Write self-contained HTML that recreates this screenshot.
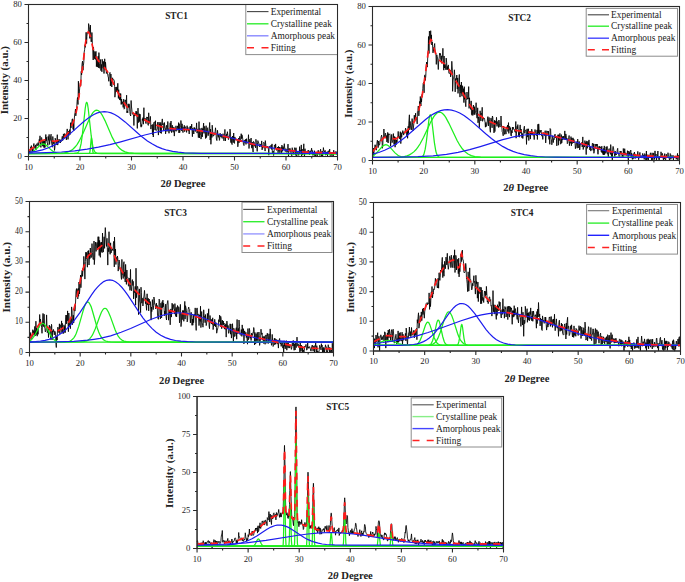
<!DOCTYPE html>
<html><head><meta charset="utf-8"><style>
html,body{margin:0;padding:0;background:#fff;}
svg{display:block;}
text{font-family:"Liberation Serif", serif;fill:#222;}
.tl{font-size:8.7px;fill:#262626;}
.tt{font-size:9.3px;font-weight:bold;}
.lg{font-size:9.4px;}
.al{font-size:10.6px;font-weight:bold;}
</style></head><body>
<svg width="685" height="582" viewBox="0 0 685 582">
<rect width="685" height="582" fill="#fff"/>
<path d="M28.5 155.4L29 151L29.3 152.1L29.8 151.5L30.1 152.8L30.5 146.9L31 147.6L31.4 145.6L31.8 148.3L32.1 152.2L32.7 149.2L33 151.3L33.4 146.2L33.9 143.5L34.2 145.9L34.7 148.3L35 147.3L35.5 145.1L35.9 149.9L36.3 144.4L36.8 143.7L37.1 145.9L37.6 145L38.1 142.6L38.5 145.5L38.8 145.3L39.2 139.5L39.6 141.1L40 135.8L40.5 144.8L40.9 147.4L41.2 137.8L41.7 137.5L42.2 143.3L42.5 145.7L43 140.5L43.2 146.5L43.7 141.4L44.1 147.8L44.5 140.8L45 147.5L45.8 134.5L46.2 140.9L46.7 137.2L47 142.3L47.5 143.2L47.9 145.4L48.2 136.4L48.8 140.4L49.1 134.4L49.6 144.5L49.9 141.1L50.4 140.1L50.7 135.5L51.1 134.2L51.6 143.1L52.5 147.2L52.8 136.5L53.2 141.6L53.5 143.7L54.1 141.6L54.5 150.4L54.9 147.5L55.2 138.2L55.6 140L56.1 140.7L56.6 144.7L57 139L57.3 134.7L57.7 145.1L58.2 140.6L58.6 142.1L59 139.1L59.3 140.2L59.8 140.5L60.3 143L60.7 139.7L61.1 141.7L61.5 139.8L61.8 139.3L62.3 136.3L62.6 140.7L63.2 139.3L63.4 133.9L64 138.3L64.3 138.2L64.7 133.5L65.1 135.3L65.6 135.5L65.9 134.7L66.4 139.9L66.7 132.9L67.2 128.9L67.6 131.3L68 139.4L68.5 131.2L68.9 135.5L69.3 131.8L69.7 129.6L70.1 134.5L70.6 122.7L71 127.9L71.4 123.2L71.7 123.2L72.2 119L72.5 118.8L73.1 129.4L73.4 121.9L73.8 130.8L74.1 121.9L74.6 115.1L75.1 112.3L75.5 109L75.8 115.9L76.3 110.4L76.7 109.4L77.1 101.2L77.5 97.5L78 104.5L78.4 81.2L78.8 97.4L79.1 96.8L79.6 88.9L80 85L80.3 83.2L80.8 85.5L81.2 71.4L81.6 74.9L82 64.2L82.5 61.1L83 70.3L83.4 65.6L83.8 61.9L84.2 52.1L84.6 49.7L85 44.7L85.4 47.3L86.1 32.3L86.6 43.5L86.9 36.4L87.3 32.6L87.8 33.2L88.3 33.1L88.6 23.6L89.1 26.7L89.5 29.6L89.8 38.4L90.4 25.1L90.7 35.4L91.1 41.7L91.4 40.5L91.6 41.5L91.9 32.5L92.4 44.9L92.7 47.1L93.2 60L93.5 47L94.1 57.5L94.4 58.7L94.9 51.4L95.3 59.5L95.7 52.1L96.1 51.5L96.4 66.6L96.9 59.2L97.4 67.1L97.7 60.1L98.2 56.1L98.6 67.8L98.9 52.6L99.4 63.6L99.8 68.3L100.6 59.5L100.9 70.6L101.4 64.4L101.9 71.8L102.2 59.3L103.1 68.3L103.4 61.4L104 73.5L104.7 58.8L105.2 69.2L105.5 62.2L106.4 73.5L107.2 70.9L107.6 73.9L108.1 76.7L108.3 76.9L108.8 81.3L109.2 74.1L109.7 73.5L110 72.4L110.4 85.9L110.9 74L111.8 87L112.2 80.3L112.6 77.8L113 80.1L113.4 79.9L113.7 79.6L114.3 81L114.6 86.3L114.9 97.2L115.5 91.9L115.9 87L116.3 92L116.7 87L117.1 87.2L117.4 91.5L117.8 83.3L118.4 98.4L118.7 89.7L119.1 97.2L119.6 99.8L119.9 93.5L120.4 100.3L120.7 93.6L121.2 104.5L121.6 99.1L121.9 104L122.3 101.7L122.8 103L123.2 107.4L123.7 99.2L124.1 109.2L124.6 108.6L125 99.9L125.4 100L126.2 104.3L126.6 95.2L126.9 112.8L127.3 111L127.8 112.8L128.1 103.9L128.6 107.5L129 103.8L129.4 104.9L129.8 111.3L130.2 114.6L130.7 116L131.1 100.5L131.5 107L131.8 109.1L132.3 114.1L132.8 113.8L133.1 114.7L133.5 115L133.9 125.5L134.3 114.2L134.7 116.1L135.2 113.1L135.6 113.8L136.1 111L136.4 115.4L136.8 111.7L137.3 128.4L138 108.1L138.6 122.6L139.3 113.8L139.7 121.6L140.1 114.2L140.5 124.7L141.1 127.2L141.4 124.6L141.7 126.3L142.3 118.9L142.6 120.5L143 117.6L143.4 124.2L143.9 107.7L144.2 120.2L144.7 120.3L145.1 118.1L145.4 121.5L146 123.6L146.8 116.9L147.2 118.2L147.6 117.1L147.9 124.2L148.3 125.4L148.7 112.8L149.3 123.4L149.7 120.3L150.1 119.3L150.4 116.4L150.9 129.1L151.2 125.3L151.6 125.3L152.1 124.9L152.5 134.6L152.9 124.3L153.3 137L153.7 122.9L154.2 122L154.7 121.9L155 130.1L155.5 120.7L155.7 128.8L156.2 130.6L156.6 129.7L157.1 129.2L157.4 124.9L157.8 122.1L158.4 135.1L159.1 122.2L159.4 125.4L159.8 124.2L160.3 133L160.7 122.4L161.3 133.5L161.5 126L162 121L162.3 118.9L162.8 125L163.1 123.4L163.5 130L164 129.5L164.4 122.5L164.9 127.7L165.3 128.3L165.6 133.9L166.1 127.3L166.6 125.3L167 131.5L167.3 130.3L167.8 121.5L168.2 127.6L169 133.3L169.3 131.1L169.8 129.6L170.2 122.8L170.6 131.2L171 121L171.5 132.6L171.8 130.2L172.3 125.2L172.7 129.8L173.2 132.3L173.5 129.4L173.9 126.9L174.3 136.1L174.8 129.9L175.1 129.4L175.6 130.6L176 125.8L176.3 131.3L176.9 130.5L177.1 128.8L177.7 125.9L178.1 130L178.6 122.6L178.9 132.9L179.2 123.7L179.7 132.7L180.1 129.8L180.6 127.6L180.9 120.5L181.4 125.4L181.7 130.9L182.1 123.8L182.6 130.2L183 132.6L183.3 127.4L183.9 128.9L184.3 125.3L184.7 131.7L185 127.8L185.6 126.7L185.9 128.3L186.4 129.6L186.6 132.4L187.1 125.7L187.5 128.9L188 127.5L188.3 131L188.7 129.5L189.2 134L189.6 129.3L190 126.5L190.5 129.3L190.8 126.1L191.2 128.4L191.7 124.1L192.4 136.7L192.8 128.1L193.4 130.6L193.8 134L194.2 127.3L194.5 128.9L195 128.2L195.3 131.5L195.7 129.3L196.2 129.1L196.6 122.9L197 133.1L197.8 128.9L198.3 137.6L198.6 137.2L199 121.6L199.4 138L200 128.4L200.4 134.3L200.8 134L201 139.1L201.6 134.7L201.9 127.9L202.3 136.9L202.8 128.8L203.1 130L203.6 123.1L204 133.4L204.4 126.4L204.8 128L205.6 138.5L206.1 125.7L206.5 137.5L207 133.9L207.3 128.5L207.7 127.7L208.2 135.7L208.5 132.4L208.9 133.4L209.7 122.5L210.2 140L210.6 129.1L210.9 144.3L211.5 132.9L211.9 137.5L212.2 125.2L212.8 132.6L213.1 136.3L213.4 135.4L213.8 135.8L214.4 132.9L214.7 134.3L215.2 131.2L215.5 127.8L215.9 131.3L216.4 139L216.9 140.6L217.5 130.3L218.1 135.9L218.4 137.3L218.8 134.2L219.4 140.4L219.6 139.4L220.1 133.2L220.6 136.5L221 137.1L221.4 134.3L221.8 137.9L222.2 138.4L222.5 137.6L223 133.7L223.4 135.9L223.9 140.8L224.7 134L224.9 129.4L225.4 141L225.8 135.5L226.3 137.9L226.7 133.9L227 135.4L227.4 131.7L228.4 139.6L228.6 139.6L229.1 136.2L229.5 136.4L230 129.1L230.4 131.9L230.9 142.6L231.1 137L231.6 143.3L232.1 144.6L232.5 136L232.9 136.8L233.2 142.6L233.7 133L234.1 142.7L234.5 143.4L234.8 136.9L235.3 138.6L235.8 140.1L236.1 139.9L236.5 138.9L236.9 140.4L237.4 140.6L237.8 146.8L238.1 145L238.6 138.1L239 142.9L239.8 136.3L240.3 142L240.7 139.9L241.2 133.7L241.6 138.7L241.9 134.8L242.3 136L243.2 142L243.5 144.6L244 145.6L244.4 140.2L244.8 140.4L245.2 142.7L245.6 139.3L246 144.4L246.5 138.7L246.8 142.4L247.3 142.8L247.7 142.8L248 143.2L248.5 134.7L249 148.5L249.4 142.7L249.8 139.2L250.1 141.1L250.6 144.6L251.1 138L251.5 147.3L251.8 148.2L252.3 142.1L252.7 148.9L253.1 152L253.5 141.4L253.9 141.9L254.2 142.1L254.6 146.2L255.2 144.1L255.6 147.9L255.9 139.3L256.4 142.5L256.7 142.7L257.2 151.4L257.5 142.7L257.9 140.6L258.3 141.6L258.7 143L259.1 145.6L259.5 146.8L260 143.9L260.9 145.3L261.2 147L261.7 140.9L262.1 149.9L262.5 146.4L262.9 148.2L263.3 143.3L263.8 142.2L264.1 142.8L264.6 144.4L265.1 151.1L265.3 140.6L265.9 145.4L266.2 147.4L266.7 147.1L267 148.2L267.5 146L267.8 146.4L268.4 148.6L268.8 155.2L269.1 147.7L269.6 146.3L270 146.2L270.4 148.3L270.8 146.6L271.1 145L271.7 149.5L272 143.9L272.4 153.9L272.8 152L273.3 151L273.6 155.5L274.1 151.4L274.4 145L274.8 145.1L275.3 148.4L275.6 143.9L276 148.2L276.6 150.4L277 148.3L277.3 149.4L277.7 147L278.1 153.4L278.5 146.4L279 150.6L279.4 147L279.8 153.7L280.3 150.7L280.7 149.3L281.1 147.1L281.6 153.1L281.9 145.1L282.6 151.3L283 146.5L283.5 149.7L284 146.8L284.3 143.7L284.7 148L285.1 151.6L285.6 151.3L285.9 148.6L286.4 149.5L286.8 152.6L287.3 152.2L287.7 148.6L288 144.1L288.5 156.4L288.9 148.6L289.3 151.1L289.7 148.5L290.2 148.4L290.9 153.4L291.8 155.8L292.2 147.7L292.7 151.5L293 152.4L293.4 151.7L293.8 154.5L294.2 150.3L294.6 147.7L295.1 148.2L295.5 155.3L296 147.7L296.7 156.2L297.1 154.5L297.5 153.9L297.9 151.4L298.7 155.4L299.3 152.2L299.6 146.6L299.9 153.4L300.4 150.4L300.9 151.4L301.3 144.9L301.6 156.4L302.1 149L302.5 155L302.8 153.3L303.3 152.1L303.8 143.8L304.1 153.8L304.5 156.4L305 148.7L305.3 154.1L305.8 152.6L306.2 152.1L306.6 151.8L307 152.5L307.5 151.4L307.8 151.2L308.3 150L308.7 153.2L309.5 154.8L309.9 150.8L310.3 152.4L310.7 150.9L311.2 151L311.6 148.2L312 151.8L312.3 150.5L312.7 155.3L313.2 155L313.6 153.2L314.1 155.4L314.4 150.7L314.9 155.7L315.2 152.3L315.6 156.4L316.6 153.3L317 153.2L317.2 156.4L317.7 152.3L318.2 150.2L318.5 151L318.9 154.2L319.3 154.1L319.9 155.5L320.2 151.2L320.6 149.2L321.4 156.4L321.9 152.3L322.2 151L322.6 156.4L323.1 152.4L323.4 147.6L323.8 150.8L324.8 151.9L325.1 150.3L325.6 155.1L326 154.9L326.4 151.9L326.8 154.5L327.3 152.3L327.5 156.4L327.9 151.1L328.5 150.9L328.9 152.8L329.2 152.6L329.7 149.1L330.1 155.5L330.5 155.1L330.9 155.6L331.2 154L331.7 155.4L332.1 152.9L332.6 154.6L333 156.4L333.4 156.4L333.7 150.2L334.2 153.2L334.7 153.6L335 153L335.5 153.3L335.9 151.3L336.2 151.8L336.8 154.5L337.2 155L337.5 155.6" fill="none" stroke="#000" stroke-width="0.85" stroke-linejoin="round"/>
<path d="M28.5 153.1L31 152.5L33.2 151.5L35.3 149.8L40.3 145.1L41.8 144.2L43.2 144L44.6 144.2L46 145.1L51.3 150.1L53.9 151.9L57 153L61.3 153.4L337.5 153.5" fill="none" stroke="#1eee1e" stroke-width="1.25"/>
<path d="M28.5 153.5L74.2 153.4L76.5 153.2L78 152.5L78.9 151.3L79.7 149.6L81.1 143.7L82.4 134.3L85.2 108.5L85.9 104.1L86.3 102.9L86.7 102.5L87.1 102.9L87.5 104.1L88.2 108.5L91.2 135.7L92.7 145.6L93.5 149.1L94.5 151.3L95.6 152.6L97 153.3L101.5 153.5L337.5 153.5" fill="none" stroke="#1eee1e" stroke-width="1.25"/>
<path d="M28.5 153.5L53.5 153.4L61.2 153.2L64.3 152.9L66.9 152.3L69.2 151.5L71.2 150.4L73.4 148.8L75.3 146.8L77.2 144.3L79.1 141.2L82.5 134.6L89.1 119.4L91.8 114.3L93.1 112.4L94.3 111.2L95.6 110.4L96.7 110.1L98.1 110.5L99.4 111.4L100.8 113L102.3 115.3L105 120.6L112.3 137.4L114.7 141.9L117 145.4L119.5 148.2L122.2 150.4L125.1 151.8L128.6 152.8L133.7 153.3L142.4 153.5L337.5 153.5" fill="none" stroke="#1eee1e" stroke-width="1.25"/>
<path d="M28.5 153.5L89.2 153.4L89.7 152.8L90.1 151L91.1 139.3L91.4 137.7L91.7 139.3L92.8 151.3L93.2 153L94 153.4L337.5 153.5" fill="none" stroke="#1eee1e" stroke-width="1.25"/>
<path d="M28.5 152.4L35.9 151.4L42.5 149.9L48.5 147.8L54.2 145.1L59.8 141.8L65.4 137.6L70.8 133.1L83.5 121.8L90.1 116.7L93.9 114.5L97.4 112.9L100.9 112L104.3 111.7L107.7 112L111.1 112.9L114.7 114.5L118.4 116.8L125.1 121.9L137.3 132.8L142.3 137.1L147.4 141L152.4 144.1L157.1 146.6L162 148.6L167.1 150.2L172.6 151.4L178.2 152.2L184.4 152.8L201 153.4L337.5 153.5" fill="none" stroke="#1c1cee" stroke-width="1.2"/>
<path d="M28.5 153.2L46.5 152.7L61.5 152L74.8 150.8L87.2 149.1L98.4 147.1L109.9 144.6L120.7 141.8L144.8 135L157.1 132L164 130.7L170.5 129.8L176.8 129.3L183 129.1L189.2 129.3L195.5 129.8L202 130.7L208.9 132L221.2 135L245.3 141.8L256.1 144.6L267.6 147.1L278.8 149.1L291.2 150.8L304.5 152L319.5 152.7L337.5 153.2" fill="none" stroke="#1c1cee" stroke-width="1.2"/>
<path d="M28.5 150.8L33.6 147.4L39.4 142L40.6 141.2L42.9 140.3L44.9 139.8L47.2 139.9L50.1 140.2L53.3 141.2L54.7 141.3L57.4 140.7L61.2 139.3L63.7 137.5L66.4 134.8L68.3 132.5L70.1 129.3L72.5 123.9L74.3 119.3L75.7 114.5L76.9 108.6L78.6 98.9L79.7 90.8L85.5 42.8L87.2 34.4L87.7 32.7L88.2 32.1L88.7 32.3L89.1 33L90.5 36.5L93.2 49.6L94.6 53.5L96.1 56.9L98.5 60.9L105.3 68.6L108.1 72.6L110.5 77L115.9 88.9L119.9 96.2L122.6 100.9L127.7 107.7L129.8 110.1L131.8 111.9L134.9 114.3L138.3 116.5L147.1 121.2L152.3 123.6L156.7 125.3L160.1 126.4L166 127.9L171.4 128.7L194 130L199 130.6L205 131.6L216.3 134.1L232.3 138.6L254.6 144.6L264.2 146.7L275.2 148.7L285.9 150.2L303.7 151.9L322.1 152.7L337.5 153.1" fill="none" stroke="#ff1a1a" stroke-width="1.7" stroke-dasharray="7 6.5"/>
<rect x="28.5" y="4.5" width="309" height="152" fill="none" stroke="#2a2a2a" stroke-width="1.05"/>
<path d="M28.5,156.5 v4 M54.25,156.5 v2 M80,156.5 v4 M105.75,156.5 v2 M131.5,156.5 v4 M157.25,156.5 v2 M183,156.5 v4 M208.75,156.5 v2 M234.5,156.5 v4 M260.25,156.5 v2 M286,156.5 v4 M311.75,156.5 v2 M337.5,156.5 v4 M28.5,156.5 h-4 M28.5,137.5 h-2 M28.5,118.5 h-4 M28.5,99.5 h-2 M28.5,80.5 h-4 M28.5,61.5 h-2 M28.5,42.5 h-4 M28.5,23.5 h-2 M28.5,4.5 h-4" stroke="#2a2a2a" stroke-width="1.1" fill="none"/>
<text x="28.5" y="169.9" text-anchor="middle" class="tl">10</text>
<text x="80" y="169.9" text-anchor="middle" class="tl">20</text>
<text x="131.5" y="169.9" text-anchor="middle" class="tl">30</text>
<text x="183" y="169.9" text-anchor="middle" class="tl">40</text>
<text x="234.5" y="169.9" text-anchor="middle" class="tl">50</text>
<text x="286" y="169.9" text-anchor="middle" class="tl">60</text>
<text x="337.5" y="169.9" text-anchor="middle" class="tl">70</text>
<text x="21.9" y="159" text-anchor="end" class="tl">0</text>
<text x="21.9" y="121" text-anchor="end" class="tl">20</text>
<text x="21.9" y="83" text-anchor="end" class="tl">40</text>
<text x="21.9" y="45" text-anchor="end" class="tl">60</text>
<text x="21.9" y="7" text-anchor="end" class="tl">80</text>
<text x="176.5" y="18.6" text-anchor="middle" class="tt">STC1</text>
<rect x="245.8" y="4.5" width="91.7" height="50.1" fill="#fff" stroke="#8c8c8c" stroke-width="1"/>
<path d="M247,11.6 H268.5" stroke="#444" stroke-width="1.1"/>
<text x="270.7" y="14.8" class="lg">Experimental</text>
<path d="M247,23.8 H268.5" stroke="#3e3" stroke-width="1.4"/>
<text x="270.7" y="27" class="lg">Crystalline peak</text>
<path d="M247,35.8 H268.5" stroke="#88f" stroke-width="1.4"/>
<text x="270.7" y="39" class="lg">Amorphous peak</text>
<path d="M247,47.8 H254 M261.5,47.8 H268.5" stroke="#f22" stroke-width="1.5"/>
<text x="270.7" y="51" class="lg">Fitting</text>
<rect x="28.5" y="4.5" width="309" height="152" fill="none" stroke="#2a2a2a" stroke-width="1.05"/>
<text transform="translate(4.5,80.25) rotate(-90)" text-anchor="middle" class="al" y="3.6" style="font-size:10.9px">Intensity (a.u.)</text>
<text x="183" y="187.1" text-anchor="middle" class="al">2<tspan font-style="italic">&#952;</tspan> Degree</text>
<path d="M372.5 153.8L372.9 158L373.4 148.1L373.6 155.8L374.2 150.7L374.6 149.1L374.9 144.8L375.3 144.9L376.2 150.2L376.6 148.6L376.9 143.2L377.4 140.2L378.2 147.6L378.7 141L379.1 145.3L379.5 144.9L379.8 143.9L380.2 140L380.7 140.5L381.1 137.1L381.6 135.1L382 137.6L382.3 148.3L382.8 145.2L383.1 137.6L383.6 138.1L383.9 129L384.3 137.6L384.7 138L385.3 133.6L385.6 133.1L386.1 138.3L386.4 135.5L386.8 142L387.2 141.2L387.7 132.4L388.1 143L388.5 133.7L389 134.7L389.8 133.8L390.1 135.2L390.6 146.2L390.9 141.7L391.3 140.3L391.7 134.4L392.1 142.7L392.5 141.2L393 140.1L393.4 133.6L393.9 144.5L394.3 144.2L394.6 136.5L395.1 147.2L395.4 137.5L395.9 140.4L396.2 144.7L396.6 140L397 142.1L397.4 137.2L397.9 136.1L398.2 131.4L398.6 137.1L399.2 136.3L399.4 138.9L399.9 136.4L400.3 131.7L400.8 143.6L401.2 132.7L401.7 137.3L402 134.5L402.4 133.1L402.8 130.6L403.2 132.9L403.7 135.1L404 131.9L404.8 133.4L405.6 128.1L406.2 130.8L406.5 130.4L406.8 136.5L407.3 131L407.6 138.3L408.2 126.3L408.4 133.5L408.8 123.1L409.4 114.8L409.7 129.7L410.1 121.4L410.5 125.2L411 129L411.4 129.9L412.1 118.6L412.5 122.8L413 131L413.4 128.1L413.8 123.6L414.3 115.2L414.6 119.8L415.2 118.5L415.6 113.2L415.8 119.7L416.2 118L416.7 117.1L417.2 123.9L417.4 111.7L417.9 110.6L418.3 106L418.8 115.9L419.2 112.4L419.6 101.5L420 103.2L420.3 96.5L420.9 106L421.2 98.7L421.5 102L422 94.5L422.5 96.3L422.8 88.7L423.2 83.2L423.7 82.2L424.1 92.8L424.5 75.5L425 74.8L425.3 80.5L425.8 75.8L426.1 68.6L426.6 62L426.8 65.7L427.4 67.1L427.8 54L428.2 51L428.5 36.5L429 53.5L429.4 31.1L429.7 33.5L430.1 39.6L430.7 30.7L431.1 39.2L431.4 34.9L431.8 45L432.3 41.9L433 52.9L433.6 47.6L434 51.1L434.3 45.5L434.7 43.5L435.1 52.6L435.9 53.1L436.3 64.4L436.8 54.8L437.2 56.9L437.6 57.9L438.3 69.5L438.7 60.7L439.2 58.2L439.6 53.2L440.1 54.9L440.5 53.5L440.9 59.7L441.4 55.8L441.6 63.3L442 59L442.5 57.6L442.9 48.3L443.3 61.8L443.8 70.2L444.1 56L444.5 68L445 64.4L445.4 66L445.9 69.8L446.2 58.1L446.7 62.7L446.9 69.5L447.3 66.4L447.7 69.7L448.3 64.9L448.9 73.3L449.5 73.6L449.9 73.1L450.4 70L450.6 76.9L451.4 70.9L451.8 61.3L452.4 70.2L452.6 91.3L453.2 78.8L453.5 78.8L454 75.7L454.4 69.8L454.7 74.7L455.2 91.9L455.6 78.5L455.9 80.3L456.4 79.4L456.8 75L457.3 89.1L457.7 77.9L458 93.4L458.6 85.2L458.8 83.9L459.3 74.5L459.7 91.3L460 97.1L460.4 84.9L461 93.2L461.4 82L461.7 94.7L462.1 96.3L462.5 85.7L463 92.8L463.5 88.7L463.9 102.6L464.3 86.7L464.5 99.3L465 92.5L465.4 103.1L465.8 106.7L466.1 100.4L466.6 98.8L467 92L467.4 99.3L467.8 98L468.2 99L468.7 86.6L469.1 108.4L469.5 97.8L469.9 106.1L470.3 104.5L470.8 109.5L471.2 100.9L471.5 114.3L472 115.3L472.3 109.7L472.9 115.4L473.2 105.9L473.5 105L474 114.4L474.4 106.7L474.8 114.7L475.2 111.9L475.7 112.1L476.1 102.7L476.4 112.8L476.9 117.9L477.2 118.3L477.7 107.8L478 122.8L478.5 117L478.9 116.9L479.3 127.7L479.8 118L480.1 110.8L480.5 115L480.9 121L481.4 113.4L481.8 114.5L482.2 107.3L482.6 121.3L483.4 117.9L483.9 119.1L484.3 118.3L484.6 119.4L485.1 122.6L485.4 127.2L485.9 122.4L486.2 126.6L486.7 125.2L487.1 122.9L487.6 118.1L487.9 116.6L488.4 126L488.7 119.6L489.1 117.5L489.6 121.8L490 129.7L490.4 132.3L490.8 118.4L491.1 117.9L491.6 121.2L492.1 127.8L492.4 116L492.8 117.3L493.2 123.5L493.6 124.5L494 132.9L494.5 120.3L494.9 131.6L495.3 121L495.7 120.9L496.2 124.1L496.5 117.3L497 126.4L497.4 122.3L497.8 121.5L498.2 124.2L498.6 127.5L498.9 120L499.4 123.9L499.8 126.9L500.2 126.9L500.6 125.7L501 116L501.5 126.1L501.9 127.8L502.2 131.7L502.7 132.6L503.2 135.8L503.6 126.2L503.9 127.3L504.3 132.2L504.7 134.4L505 129.2L505.5 130.3L506 134.1L506.4 126.8L507.2 128.6L507.6 125L507.9 131.5L508.5 122.6L508.8 133.4L509.3 126.6L509.6 126.2L510 130.3L510.5 127.7L510.8 135L511.3 136.1L511.7 130.4L512.1 132.9L512.4 127.1L512.9 129.7L513.3 127.2L513.6 128.6L514.2 129.2L514.5 129.8L514.9 131.9L515.3 132.4L515.8 121.5L516.1 138.2L516.5 131.4L517.1 126.3L517.4 128.9L517.8 124.6L518.2 128.5L518.7 136.5L519 132.5L519.4 137.2L519.9 126.9L520.2 124.9L520.7 133.2L521.1 129L521.9 137.7L522.4 133.5L522.8 138.5L523.5 130.8L523.9 128.6L524.4 126.2L524.7 133.3L525.1 130.9L526.1 129.7L526.5 144.4L526.8 135.5L527.2 128.8L527.7 137.1L528.1 131.2L528.5 128.8L528.8 140.5L529.2 133.3L529.6 131.5L530.2 132.5L530.4 139.1L530.8 131.1L531.3 135.1L531.7 129.1L532.1 130.9L532.6 135.1L533 132L533.3 135.8L533.9 135.8L534.2 139.6L535 129.5L535.5 132.5L535.8 133.1L536.3 135.7L536.7 135.3L537.1 129.9L537.4 139.5L537.9 124.3L538.4 133.5L538.7 123.9L539 128.2L539.4 135.1L539.9 130.2L540.4 132.3L541.1 130L541.6 135.8L542 136.2L542.4 135.3L542.8 139.4L543.1 134.8L543.6 132.7L544 132.7L544.4 133.1L544.8 135.7L545.2 130.7L545.7 142.9L546.1 136L546.4 135.8L546.8 130.8L547.4 131.9L547.7 131.5L548.1 134.9L548.4 131.1L549 139.4L549.3 135.1L549.8 144.3L550.1 128.5L550.6 129.2L551 138.4L551.4 139.6L551.8 144.8L552.2 142.6L552.5 135.8L553 137.1L553.3 142.6L553.7 138.7L554.2 139.5L554.6 135L555.1 134.1L555.5 138L555.8 136.7L556.4 137.3L556.8 145.9L557 136.8L557.5 137.9L558 134.7L558.4 145.2L558.7 134.8L559.2 140.6L559.9 133.4L560.4 144.2L560.8 143.7L561.3 134.6L561.6 143.2L561.9 142.5L562.4 136.5L562.8 139.8L563.3 136L563.6 138L564.1 139.4L564.5 135.5L564.8 130.9L565.2 140L565.8 133.9L566.2 135.4L566.5 139.5L567 138.2L567.3 143.7L567.8 142.6L568.2 139.2L568.5 140.6L569.1 135.5L569.4 145.7L569.9 141.9L570.2 143.3L570.7 141.6L571 136.6L571.4 145.8L571.9 138L572.2 143.6L572.7 142.7L573 137.8L573.6 142.8L573.8 139.3L574.3 141.5L575.1 143.5L575.4 148.7L576 145.2L576.3 141.8L576.7 141.8L577.2 148.2L577.7 139.1L577.9 140.8L578.4 147.8L578.8 147L579.2 141.4L579.7 149.9L580.4 143.8L580.8 144.2L581.2 144L581.7 142.5L582.2 147L582.4 145.9L582.8 136.9L583.2 149.5L583.7 146.2L584.1 144.3L584.5 147.1L584.9 140.6L585.4 144.8L585.8 142.5L586.2 154.6L586.5 141.2L587 141.5L587.4 148.3L587.9 141.3L588.3 145L588.6 142.8L589 139.9L589.5 146L589.9 150L590.3 146.6L590.8 151.1L591.1 149.6L591.8 149.5L592.4 143.2L592.8 144.5L593.2 150.4L593.6 143.7L593.9 153.3L594.4 150L594.8 148.4L595.1 144L595.6 145.7L596 146.7L596.3 144L596.9 146.1L597.3 144.1L597.6 151.2L598 154.3L598.4 150.2L599 146.3L599.2 148.2L599.7 146.3L600.4 147.7L600.8 146.9L601.3 151.9L601.8 146.2L602.1 153L602.5 150.2L603 154.5L603.4 148.5L603.7 155L604.3 145.9L604.6 154.6L605 149.6L605.9 153.4L606.1 146.8L606.7 152.2L607.1 146.4L607.5 154.2L607.9 153.6L608.4 157.3L608.7 149.6L609.2 148.6L609.4 150.7L610 152L610.4 154.4L610.7 144.6L611.6 157.4L612 152.9L612.3 159.8L612.8 147.5L613.1 146.4L613.5 148L614.1 152.6L614.9 156.7L615.2 151.1L615.7 154.9L616.1 153.9L616.4 154.7L616.9 153.9L617.2 150.4L617.7 148.3L618 152.8L618.5 153.2L619 156.5L619.4 156.9L619.8 156.5L620.1 151L620.6 152.9L621 151L621.5 152.6L622.3 157.4L622.6 155L623.1 158L623.3 148.5L623.7 153.4L624.3 155.2L624.7 148.7L625.2 155.4L625.4 152.8L625.9 154.8L626.3 153.5L626.7 155.5L627.2 153.2L627.5 150.7L628 158.1L628.4 160.4L628.8 151L629.1 154.3L629.6 152.4L629.9 155.6L630.4 150.7L630.9 150L631.2 158.1L631.6 153.2L632 156.6L632.4 159.4L632.8 155.9L633.3 153.6L633.7 158.8L634 158.6L634.4 152L635 155.2L635.3 154.3L635.6 158.4L636.1 157.1L636.6 155.1L636.9 155L637.4 155.1L637.8 151.4L638.2 155.2L638.6 159.7L638.9 158L639.5 155.9L639.9 152.4L640.1 157.6L640.6 156.9L641 155.9L641.4 157.7L641.8 158.1L642.2 156.6L642.7 153.4L643.1 154.8L643.4 156.8L643.8 155.1L644.2 159.4L644.7 153.6L645.1 154.3L645.5 155.4L645.9 160.4L646.4 151L646.7 160.4L647.1 158.8L647.7 158.7L647.9 154.6L648.3 160.2L648.8 155.8L649.5 157.2L650 154.3L650.5 152.8L650.8 155.5L651.2 157.2L651.7 160.4L652.1 152.8L652.4 157.3L652.9 160.4L653.7 152.9L654.1 156.9L654.6 159.5L655 150.9L655.3 155.1L655.7 155.7L656.1 154.1L656.5 160.4L656.9 156.8L657.4 157.1L657.9 151L658.2 158.1L658.6 158.1L659.1 160.2L659.8 157.2L660.2 156.1L660.7 157.2L661 151.8L661.5 155.5L661.9 155.2L662.4 153.4L662.7 155.2L663.1 158.1L663.5 160.4L663.9 155.9L664.3 158.9L664.7 153.6L665.1 158.8L665.6 160.4L666.3 154.2L666.8 157.4L667.3 156.5L667.7 156.5L668 152.7L668.4 156.2L668.8 157L669.6 160.4L670.2 153.5L670.6 154.2L670.9 159.3L671.3 155.5L671.8 156.2L672.2 158L672.6 157.8L673 155.2L673.4 160L673.7 158.3L674.2 157.2L674.6 157.1L674.9 157.6L675.3 156.5L675.8 155.8L676.2 159.3L676.7 156.9L677 158.4L677.5 153.4L677.9 160.4L678.2 157.7L678.6 155.4L679.1 157.8L679.5 157.9" fill="none" stroke="#000" stroke-width="0.85" stroke-linejoin="round"/>
<path d="M372.5 156L374.3 154.9L376.2 153.3L382.7 146.1L384.3 145.1L385.8 144.7L387.3 145.1L389 146.2L395 152.9L397.9 155.3L399.6 156.2L401.4 156.8L406 157.3L679.5 157.4" fill="none" stroke="#1eee1e" stroke-width="1.25"/>
<path d="M372.5 157.4L418.8 157.4L421 157.2L422.3 156.7L423.2 155.7L423.9 154.3L425.2 149.2L426.4 141.4L428.9 119.9L429.6 116L430 115L430.3 114.7L430.6 114.9L431 115.9L431.7 119.5L434.4 142.6L435.8 151L436.6 153.8L437.4 155.7L438.5 156.8L439.8 157.3L444 157.4L679.5 157.4" fill="none" stroke="#1eee1e" stroke-width="1.25"/>
<path d="M372.5 157.4L393.1 157.4L400.9 157L404.2 156.6L406.9 155.9L409.4 154.9L411.6 153.6L413.8 151.9L415.9 149.8L417.9 147.2L420 144L423.6 137.3L430.7 122.1L433.8 116.7L435.3 114.7L436.7 113.3L438.1 112.5L439.5 112.2L441.1 112.5L442.6 113.5L444.2 115.2L445.9 117.6L448.8 123.1L457.1 140.5L459.8 145.2L462.3 148.8L465.1 151.8L468 154L471.3 155.6L474.9 156.6L480.7 157.2L490.2 157.4L679.5 157.4" fill="none" stroke="#1eee1e" stroke-width="1.25"/>
<path d="M372.5 154.2L378.7 152.5L384.6 150.3L390.3 147.5L396 144.1L400.7 140.7L405.8 136.7L425.3 119.8L429.4 116.6L433.2 114.1L437 112.1L440.6 110.7L444.1 109.9L447.7 109.7L451.6 110.1L455.6 111.2L459.7 113L464 115.6L467.7 118.2L471.7 121.4L485.7 133.8L491.4 138.5L497.1 142.8L502.6 146.4L507.7 149.1L513 151.4L518.5 153.2L524.3 154.6L530.6 155.7L537.5 156.5L545.6 157L555.6 157.2L579.4 157.4L679.5 157.4" fill="none" stroke="#1c1cee" stroke-width="1.2"/>
<path d="M372.5 157.4L399.5 157.2L417.9 156.7L433.1 155.8L446.5 154.3L458.1 152.3L469.7 149.6L480.3 146.6L502.8 139.7L513.5 136.9L519.2 135.8L524.7 135L529.9 134.5L535.2 134.3L540.5 134.5L545.9 135L551.4 135.8L557.3 137L567.9 139.8L589.5 146.4L599.3 149.2L610 151.8L620.4 153.7L632.2 155.3L645.2 156.3L660.2 157L679.5 157.3" fill="none" stroke="#1c1cee" stroke-width="1.2"/>
<path d="M372.5 151.8L377.9 145.7L381.9 139.7L383.6 137.9L384.7 137.4L389.7 137.4L390.8 137.7L393.3 138.7L394.5 138.9L395.5 138.8L396.8 138.2L402 134.8L408.2 129.5L412.1 125L415 120.5L416.7 116.2L418.9 109.4L420.5 103.1L422.1 95.7L424.6 79.5L428.8 47.8L430.1 41.2L430.5 40.1L430.8 39.6L431.3 40.1L431.9 41.3L433.4 45.7L435.8 54.1L437.5 57.5L438.9 59.5L440.2 61L441.5 62.1L445.1 64.2L446.3 65.5L447.8 67.4L453.9 77.3L467.4 101.1L471 106.8L474.7 111.2L479.4 115.3L484.3 118.7L490.1 121.8L495.9 124.3L501 126.3L505.3 127.7L511.1 129.3L517.2 130.6L525.4 131.8L531.8 132.4L541.6 133L544.8 133.5L551.4 135.4L577.8 142.4L599 148.8L609.6 151.3L618.2 153L627.6 154.5L643.6 155.8L662.7 156.5L679.5 156.8" fill="none" stroke="#ff1a1a" stroke-width="1.7" stroke-dasharray="7 6.5"/>
<rect x="372.5" y="6.5" width="307" height="154" fill="none" stroke="#2a2a2a" stroke-width="1.05"/>
<path d="M372.5,160.5 v4 M398.08,160.5 v2 M423.67,160.5 v4 M449.25,160.5 v2 M474.83,160.5 v4 M500.42,160.5 v2 M526,160.5 v4 M551.58,160.5 v2 M577.17,160.5 v4 M602.75,160.5 v2 M628.33,160.5 v4 M653.92,160.5 v2 M679.5,160.5 v4 M372.5,160.5 h-4 M372.5,141.25 h-2 M372.5,122 h-4 M372.5,102.75 h-2 M372.5,83.5 h-4 M372.5,64.25 h-2 M372.5,45 h-4 M372.5,25.75 h-2 M372.5,6.5 h-4" stroke="#2a2a2a" stroke-width="1.1" fill="none"/>
<text x="372.5" y="173.9" text-anchor="middle" class="tl">10</text>
<text x="423.67" y="173.9" text-anchor="middle" class="tl">20</text>
<text x="474.83" y="173.9" text-anchor="middle" class="tl">30</text>
<text x="526" y="173.9" text-anchor="middle" class="tl">40</text>
<text x="577.17" y="173.9" text-anchor="middle" class="tl">50</text>
<text x="628.33" y="173.9" text-anchor="middle" class="tl">60</text>
<text x="679.5" y="173.9" text-anchor="middle" class="tl">70</text>
<text x="365.9" y="163" text-anchor="end" class="tl">0</text>
<text x="365.9" y="124.5" text-anchor="end" class="tl">20</text>
<text x="365.9" y="86" text-anchor="end" class="tl">40</text>
<text x="365.9" y="47.5" text-anchor="end" class="tl">60</text>
<text x="365.9" y="9" text-anchor="end" class="tl">80</text>
<text x="519.6" y="21.2" text-anchor="middle" class="tt">STC2</text>
<rect x="586.2" y="8.4" width="91.3" height="47.8" fill="#fff" stroke="#8c8c8c" stroke-width="1"/>
<path d="M587.8,14.8 H609" stroke="#444" stroke-width="1.1"/>
<text x="611.1" y="18" class="lg">Experimental</text>
<path d="M587.8,26.2 H609" stroke="#3e3" stroke-width="1.4"/>
<text x="611.1" y="29.4" class="lg">Crystalline peak</text>
<path d="M587.8,38.2 H609" stroke="#44f" stroke-width="1.4"/>
<text x="611.1" y="41.4" class="lg">Amorphous peak</text>
<path d="M587.8,49.8 H594.8 M602,49.8 H609" stroke="#f22" stroke-width="1.5"/>
<text x="611.1" y="53" class="lg">Fitting</text>
<rect x="372.5" y="6.5" width="307" height="154" fill="none" stroke="#2a2a2a" stroke-width="1.05"/>
<text transform="translate(348.65,83.75) rotate(-90)" text-anchor="middle" class="al" y="3.6" style="font-size:10.9px">Intensity (a.u.)</text>
<text x="525.8" y="190.6" text-anchor="middle" class="al">2<tspan font-style="italic">&#952;</tspan> Degree</text>
<path d="M29.5 339L29.9 340.3L30.7 332.5L31 337.9L31.5 338.5L31.9 337.7L32.3 336.5L32.8 329.7L33.1 334.6L33.5 330.7L34 332.7L34.3 336.1L34.8 326.4L35.2 336L35.7 329.7L35.9 321.2L36.4 334.5L36.8 328.1L37.2 336.2L37.5 329.6L38.1 334.3L38.4 327.5L38.8 327.9L39.3 323.4L39.7 314.5L40 321.7L40.5 319.1L40.8 323.2L41.3 324.1L41.6 327.5L42 333.3L43 313.4L43.2 320.4L43.7 326.7L44.1 314.2L44.5 326.8L44.9 328.2L45.3 331.9L45.8 331L46.2 327.3L46.6 314.9L47 327.8L47.3 332.7L48.2 329L48.5 337.5L49 327.9L49.3 325.1L49.8 327.6L50.1 326.5L50.6 337.2L50.9 339.7L51.5 324.3L51.7 325.5L52.2 339.8L52.6 330.8L53 332L53.4 329.4L53.8 331.2L54.3 334.9L54.7 331.2L55 331.3L55.5 332.2L55.8 341.7L56.3 347.5L56.6 335.8L57.2 340L57.5 329.8L57.9 327.1L58.4 329.3L58.7 332.5L59.1 329.9L59.4 323.8L59.9 333.8L60.2 324.7L60.6 325.6L61.1 327.8L61.6 320.9L61.9 332.7L62.3 323.3L62.7 333.3L63.2 332.1L63.6 333.5L64 324.8L64.3 332.3L64.8 326.3L65.2 332.7L65.5 319.9L66 315L66.4 323.9L66.8 315.2L67.2 320.9L67.6 310.9L68 322.5L68.4 331.7L68.8 313L69.6 326.7L70 323.5L70.4 328.7L70.9 318.8L71.2 323.7L71.6 306.9L72.1 310.8L72.4 324.7L72.9 322.4L73.3 315.2L73.7 322.9L74.2 309.1L74.5 307.5L74.9 311.1L75.3 308L76 291.2L76.5 288.6L77 297L77.3 289.5L77.8 298.9L78.2 288.3L78.6 296.3L79 282L79.4 294L79.8 289.9L80.1 281.4L80.6 275L80.9 287.7L81.3 279.3L81.8 272.4L82.2 270.3L82.6 276.4L83 268.3L83.3 270L83.8 256.4L84.2 261.3L84.9 279.1L85.4 261.3L85.8 252.2L86.2 258.6L86.7 252.4L87 261.6L87.4 267.2L88 250.9L88.2 255.2L88.6 250.5L89 265L89.5 253.3L89.8 258.8L90.3 248L90.8 257.7L91 257.7L91.5 257.3L92 243.6L92.4 252.3L92.8 257.8L93.1 259.5L93.6 259.4L94 241L94.3 264.6L94.8 257.3L95.1 246.4L95.6 242.1L96.1 251.4L96.4 244.4L96.7 244.4L97.1 242.4L97.6 248.8L98.1 236.7L98.4 246.9L98.8 236.8L99.2 255.5L99.6 240.4L100.1 255.8L100.4 257.3L100.8 242.4L101.3 251.6L101.6 242.1L102.1 252.7L102.5 233L102.8 244.3L103.3 252.1L104.1 236.8L104.6 248.4L104.8 238.9L105.3 227.6L106.1 242.3L106.5 246.4L107 238.3L107.8 265.1L108.1 248.2L108.6 251.7L109 231.7L109.3 243.7L109.8 252.5L110.2 254.3L110.6 242.8L111 253L111.8 249.2L112.3 249L113 250.7L113.4 243.1L113.8 241.3L114.3 266.9L114.5 237L115.1 256.2L115.5 249.1L115.9 264.5L116.2 257.3L117.1 260.8L117.4 256L117.8 258.4L118.2 271.1L118.7 265.6L119 260L119.5 261.3L119.9 269.5L120.3 269.9L120.6 269.5L121.2 277.4L121.5 279.4L121.9 259.4L122.3 274.4L122.7 271.5L123.2 278.5L123.5 264.2L124 261.7L124.3 276.5L124.8 272L125.2 282L125.6 264.4L126.4 284.4L126.9 270L127.1 276.9L127.6 277.1L128 278.2L128.4 286.2L128.8 285.8L129.2 278L129.7 283.4L130 290.4L130.5 269.4L130.8 286.2L131.3 289.3L131.6 290.7L132 281.1L132.4 279.6L132.9 285.5L133.2 281.3L133.6 298.9L134 291.2L134.6 292.6L135 289.7L135.2 286.4L135.6 305.2L136 268.2L136.5 297.7L136.9 289.3L137.4 286.3L137.7 286.5L138.2 291.5L138.5 314.6L139.4 288.9L139.8 301.5L140.2 302.8L140.6 312.7L141 287.2L141.3 292.6L141.8 303.2L142.3 298.2L142.7 298.4L142.9 306L143.8 296.9L144.1 295.1L144.5 290.4L145.1 299.8L145.5 303.7L145.8 297.8L146.2 305.5L146.6 310.3L147.1 293.8L147.5 304.8L147.8 301.5L148.2 298.2L148.7 310.9L149.1 299L149.5 300.6L149.9 304.8L150.3 301.6L150.7 309.9L151.1 320.1L151.5 307L151.8 311.6L152.4 299.6L152.6 303.9L153.2 309.6L153.6 305.8L153.9 297L154.3 298.7L154.7 304.1L155.1 303.8L155.6 308.8L155.9 307.9L156.5 303.2L156.7 308.1L157.3 305.5L157.5 315.1L158.1 319L158.4 319.3L158.8 310.9L159.1 299.1L159.6 300.2L160.1 315L160.4 318.9L160.9 303.2L161.2 305.5L161.6 317.9L162.1 301.7L162.4 307.7L162.9 300.1L163.2 306.8L163.6 303.2L164 307.1L164.5 315.7L164.8 311L165.2 314L165.7 304.1L166 316.3L166.5 320L166.9 305.3L167.8 300.5L168.1 302.9L168.5 320.2L168.9 314.9L169.3 314L169.8 310.7L170.2 324.8L170.5 310.7L170.9 308.9L171.4 317.1L171.9 310.2L172.1 303.2L172.5 310.8L173 304.3L173.4 304.7L173.8 308.8L174.2 309L174.7 314.1L174.9 303.6L175.5 315L175.9 316.5L176.2 307.4L176.6 316.9L177 309.5L177.5 305.5L177.8 311.9L178.3 311.8L178.7 306.7L179.1 307.8L179.5 322.8L179.8 321.4L180.4 304.4L180.6 310.5L181 326.6L181.5 322L181.9 313.2L182.2 319.7L182.6 310.5L183.2 313.1L183.4 310.5L183.8 321.3L184.8 301.4L185.1 319.1L185.5 305.7L186 307.9L186.4 310.2L186.8 314.8L187.2 321.9L187.6 320.2L188.1 309.8L188.7 307.1L189.1 308.8L189.6 309.3L190.1 317.9L190.4 322.9L190.9 314.1L191.2 312.3L191.6 315L192 325.3L192.4 319L192.8 325.2L193.3 315.1L193.6 322.7L194 317.2L194.5 314.3L194.9 315.5L195.2 307.9L195.8 323.5L196.2 330.4L196.4 310.9L196.8 308.1L197.3 308.1L197.7 315.4L198.1 313.9L198.5 316.6L199 325.6L199.4 321.2L199.7 314.7L200.2 321.5L200.5 306.2L200.9 327.6L201.3 320.9L201.7 311.5L202.2 322.3L202.6 325.6L203 327.2L203.4 323.4L203.7 309.8L204.1 316.7L204.5 316.2L205.1 322.7L205.4 314.5L205.8 319.2L206.2 325.6L206.7 322.9L207.1 319.1L207.4 313.4L207.8 321L208.2 317.7L208.7 308.8L209.1 325.9L209.5 328.7L210 315.5L210.4 319L210.6 322.3L211.1 320.3L211.4 324L211.9 319.1L212.4 324.4L212.7 317.8L213.1 329.6L213.4 327.6L214 322.4L214.4 325.9L214.7 319.3L215.5 326.8L215.9 322.6L216.4 327.1L216.7 333.2L217.1 330.9L218 327.4L218.4 324.2L218.7 319.7L219.2 321.9L219.6 315.1L220 318.1L220.4 326.6L220.7 316.3L221.2 319.2L221.7 328.7L221.9 324.4L222.4 320.2L222.9 325.2L223.3 321L223.6 324.6L224.1 323L224.4 328.9L224.9 325.2L225.2 329.4L225.8 323.8L226.2 337.1L226.5 326L226.9 321.1L227.8 328.5L228.1 325.5L228.5 333.2L228.9 333.3L229.2 330.8L229.8 329.8L230.1 323.8L230.6 334.2L230.9 324L231.4 338.1L232.3 330.1L232.5 323.7L233.4 341.8L233.8 328.2L234.3 330.7L234.5 336.4L235 336.4L235.3 334.6L235.8 330.6L236.3 327.7L236.7 339.2L237.1 319.5L237.3 331.8L237.8 333.7L238.3 328.4L238.7 331.5L239 320L239.5 326.6L239.9 334.4L240.2 334.6L240.7 335.3L241 334.6L241.4 329.5L241.9 336.4L242.2 324.9L242.8 333.8L243.1 334.2L243.5 328.7L243.9 343.9L244.6 330.9L245.2 334.1L245.5 334.3L245.9 332.3L246.3 337.5L246.7 335.4L247.5 344.2L247.9 328.6L248.5 339.7L248.8 338.7L249.3 328.4L249.7 330.2L250 338.1L250.3 338.2L250.8 336.1L251.1 340.5L251.5 333.2L252.1 335.4L252.4 335.5L252.9 332.6L253.3 332.9L253.7 327.5L254.1 329.2L254.6 345L254.9 332.4L255.3 342.3L255.7 343.9L256.1 333.7L256.5 340.6L256.9 338.8L257.3 332.3L257.6 340.7L258.1 341.9L258.9 332L259.3 335.4L259.6 345.4L260.2 341.2L260.6 338.9L261 329.2L261.4 334.2L261.8 334.5L262.1 332.9L262.6 340.2L263 336.5L263.4 336.6L263.7 343.5L264.5 336.5L265.1 344.3L265.4 335.6L265.8 336L266.2 334.8L266.6 343.2L267 339.3L267.3 333.2L267.8 336.3L268.2 343.6L269 333.8L269.4 340.7L269.8 338.7L270.2 328.9L270.8 340.8L271.1 341.2L271.5 345.3L271.8 343.8L272.2 334.4L272.7 341.7L273.1 346.5L273.6 345.4L273.9 341.4L274.4 338.2L274.8 344.9L275.2 338.6L275.5 344L275.9 340.4L276.3 339.8L276.8 339.5L277.1 344.1L277.6 343.1L277.9 340.3L278.4 348.1L278.7 341.9L279.6 338.5L280 343.2L280.4 343.9L280.7 342.6L281.2 346.4L281.9 341.8L282.4 342.5L282.9 348.1L283.2 345.2L283.7 352.3L284.1 340.8L284.4 346.3L284.8 343.3L285.2 348.9L285.7 344.8L286.5 340.7L286.8 350.2L287.2 341.4L287.6 345.6L288.2 348.1L288.5 343.2L288.9 346.4L289.4 346.5L289.7 348.1L290 344.5L291 346.3L291.4 349.4L291.8 347.7L292.1 344.2L292.6 340.9L292.9 346L293.4 340.5L293.7 346.1L294.1 350.3L294.5 343.7L295.1 350L295.7 342.2L296.3 347.6L296.7 346.8L297 337.1L297.3 345.7L297.8 345.7L298.2 343.8L298.6 347.2L299 347.2L299.4 345.5L299.9 352.3L300.2 341.7L300.8 351.1L301.1 351.2L301.5 345.2L301.9 347.1L302.4 351.9L302.6 346.6L303.1 351.6L303.5 350L303.9 352.3L304.3 350.6L304.7 346.1L305 347.2L305.5 346.6L306 344.4L306.7 350.2L307.3 348.9L307.7 342L307.9 347.8L308.3 346.8L308.8 348.4L309.3 347.2L309.6 346.6L310.1 348.2L310.4 348.7L310.8 351L311.1 351.2L311.6 346.8L312.3 345L313.1 351.2L313.6 346.1L314.1 346.2L314.5 352.3L314.9 345.6L315.3 346.4L315.7 342.6L316.1 352.3L316.5 352.3L316.8 345.7L317.2 352.3L317.7 351.1L318 352.3L318.5 352.1L318.9 352.3L319.3 349.4L319.7 345.2L320.1 347.1L320.5 347.1L321 349.9L321.4 343.7L321.7 346.9L322.1 345.1L322.5 352.3L323 347.5L323.3 352.3L323.8 347.5L324.1 348.1L324.6 352.3L325 348.2L325.5 344.8L325.8 347.1L326.3 346.8L326.6 351.8L326.9 351.1L327.4 352.3L327.9 348.4L328.2 344.7L329 348.8L329.5 352.3L329.8 347.3L330.3 349.7L330.6 352.3L331 352.3L331.5 350L331.9 351.9L332.3 343.2L332.7 348.8L333 352.3L333.5 350.5" fill="none" stroke="#000" stroke-width="0.85" stroke-linejoin="round"/>
<path d="M29.5 340.9L31.4 339.7L33.1 337.7L35.1 334.7L39.8 325.6L41.3 323.9L42 323.5L42.7 323.4L43.3 323.5L44 323.9L45.5 325.6L50.7 335.4L52 337.5L53.3 339L54.7 340.3L56.3 341.1L58.1 341.7L60.5 342L333.5 342.1" fill="none" stroke="#1eee1e" stroke-width="1.25"/>
<path d="M29.5 342.1L64.6 342L68.6 341.5L70.1 341L71.4 340.2L72.7 339.1L74 337.6L75.2 335.7L76.3 333.2L78.7 326.4L82.9 311.7L84.4 306.8L86.1 303.1L87 302.2L87.8 301.9L88.5 302.2L89.3 303L91.1 306.6L92.6 311.5L97.1 327.5L98.7 331.9L100.1 335.2L101.8 337.9L103.5 339.8L105.6 341L108 341.7L111.1 342L116.8 342.1L333.5 342.1" fill="none" stroke="#1eee1e" stroke-width="1.25"/>
<path d="M29.5 342.1L79.1 342L83.7 341.7L86.8 340.8L88.4 339.9L89.8 338.6L91.2 337L92.5 334.9L95.2 329L99.7 316.5L101.4 312.3L102.4 310.5L103.3 309.2L104.1 308.5L105 308.3L105.9 308.5L106.7 309.2L108.5 312.2L110.3 316.4L115.1 329.8L116.6 333.3L118.2 336.1L119.9 338.4L121.8 340L123.9 341.1L126.5 341.7L129.8 342L135.8 342.1L333.5 342.1" fill="none" stroke="#1eee1e" stroke-width="1.25"/>
<path d="M29.5 341.8L35.5 341.5L40.5 341L45 340.3L49 339.3L52.7 338L56.2 336.5L59.5 334.6L62.8 332.3L65.7 329.9L68.6 327L71.5 323.8L74.4 320.1L79.9 312.6L91.7 294.6L94.7 290.4L97.5 287.1L100.7 283.9L103.7 281.6L106.7 280.3L109.6 279.9L112.5 280.3L115.5 281.7L118.7 284.1L122 287.5L124.7 290.8L127.8 295.1L138.5 311.4L142.9 317.8L147.5 323.7L151.9 328.4L156.2 332.2L160.7 335.3L165.4 337.6L170.5 339.4L175.4 340.5L180.9 341.2L187.5 341.7L195.9 342L333.5 342.1" fill="none" stroke="#1c1cee" stroke-width="1.2"/>
<path d="M29.5 342.1L56.4 341.9L73.7 341.3L87.8 340.2L94 339.3L100 338.3L110.6 335.8L121.1 332.3L130.6 328.5L150.7 319.5L160.1 316L165.1 314.6L169.8 313.6L174.5 313L179 312.8L183.5 313L188.1 313.6L192.8 314.6L197.7 316L207.1 319.5L227.5 328.5L237.1 332.4L247.9 335.9L258.8 338.5L264.8 339.5L271.3 340.3L285.9 341.4L304 341.9L333.5 342.1" fill="none" stroke="#1c1cee" stroke-width="1.2"/>
<path d="M29.5 338.9L38.6 325L39.9 323.5L41.1 322.7L42.2 322.7L43.5 323.4L48 327.5L51.5 331.1L52.7 331.9L53.7 332.3L55 332.1L56.4 331.7L61.6 328.9L64.7 326.7L67.2 324.2L68.9 321.6L70.7 318.1L72.2 314.7L73.5 310.7L77 297.2L80.7 278.6L82 272.4L84.7 264L86.9 258.3L88.3 255.8L90 254.1L91.6 252.9L96.1 250.3L104.2 243.4L105.2 242.8L106.1 242.6L107 242.9L108.1 243.7L111.1 247.6L112.4 250.5L115.7 259.2L119.2 266.3L124.6 275.9L129.5 283.4L134.6 289.7L140 295.4L148 302.7L150.6 304.7L153 306L156.6 307.4L160.9 308.6L188.9 315L197.8 317.3L206.4 320.2L225.7 327.8L242.8 333.6L255.1 337L283.5 343.9L292.5 345.8L307.6 347.9L320.1 348.6L333.5 348.9" fill="none" stroke="#ff1a1a" stroke-width="1.7" stroke-dasharray="7 6.5"/>
<rect x="29.5" y="201.5" width="304" height="151" fill="none" stroke="#2a2a2a" stroke-width="1.05"/>
<path d="M29.5,352.5 v4 M54.83,352.5 v2 M80.17,352.5 v4 M105.5,352.5 v2 M130.83,352.5 v4 M156.17,352.5 v2 M181.5,352.5 v4 M206.83,352.5 v2 M232.17,352.5 v4 M257.5,352.5 v2 M282.83,352.5 v4 M308.17,352.5 v2 M333.5,352.5 v4 M29.5,352.5 h-4 M29.5,337.4 h-2 M29.5,322.3 h-4 M29.5,307.2 h-2 M29.5,292.1 h-4 M29.5,277 h-2 M29.5,261.9 h-4 M29.5,246.8 h-2 M29.5,231.7 h-4 M29.5,216.6 h-2 M29.5,201.5 h-4" stroke="#2a2a2a" stroke-width="1.1" fill="none"/>
<text x="29.5" y="365.9" text-anchor="middle" class="tl">10</text>
<text x="80.17" y="365.9" text-anchor="middle" class="tl">20</text>
<text x="130.83" y="365.9" text-anchor="middle" class="tl">30</text>
<text x="181.5" y="365.9" text-anchor="middle" class="tl">40</text>
<text x="232.17" y="365.9" text-anchor="middle" class="tl">50</text>
<text x="282.83" y="365.9" text-anchor="middle" class="tl">60</text>
<text x="333.5" y="365.9" text-anchor="middle" class="tl">70</text>
<text transform="translate(22.9,354.5) scale(0.84,1)" text-anchor="end" class="tl" style="font-size:9.3px">0</text>
<text transform="translate(22.9,324.3) scale(0.84,1)" text-anchor="end" class="tl" style="font-size:9.3px">10</text>
<text transform="translate(22.9,294.1) scale(0.84,1)" text-anchor="end" class="tl" style="font-size:9.3px">20</text>
<text transform="translate(22.9,263.9) scale(0.84,1)" text-anchor="end" class="tl" style="font-size:9.3px">30</text>
<text transform="translate(22.9,233.7) scale(0.84,1)" text-anchor="end" class="tl" style="font-size:9.3px">40</text>
<text transform="translate(22.9,203.5) scale(0.84,1)" text-anchor="end" class="tl" style="font-size:9.3px">50</text>
<text x="175.5" y="215.9" text-anchor="middle" class="tt">STC3</text>
<rect x="242" y="202.2" width="90" height="50.3" fill="#fff" stroke="#8c8c8c" stroke-width="1"/>
<path d="M243.2,209.4 H264.5" stroke="#444" stroke-width="1.1"/>
<text x="266.9" y="212.6" class="lg">Experimental</text>
<path d="M243.2,221.7 H264.5" stroke="#3e3" stroke-width="1.4"/>
<text x="266.9" y="224.9" class="lg">Crystalline peak</text>
<path d="M243.2,233.9 H264.5" stroke="#99f" stroke-width="1.4"/>
<text x="266.9" y="237.1" class="lg">Amorphous peak</text>
<path d="M243.2,246.1 H250.2 M257.5,246.1 H264.5" stroke="#f22" stroke-width="1.5"/>
<text x="266.9" y="249.3" class="lg">Fitting</text>
<rect x="29.5" y="201.5" width="304" height="151" fill="none" stroke="#2a2a2a" stroke-width="1.05"/>
<text transform="translate(6.35,277.25) rotate(-90)" text-anchor="middle" class="al" y="3.6" style="font-size:11.3px">Intensity (a.u.)</text>
<text x="181.6" y="383.5" text-anchor="middle" class="al">2<tspan font-style="italic">&#952;</tspan> Degree</text>
<path d="M373.5 339.9L373.9 340.8L374.4 348.1L374.6 338.7L375.2 343.7L375.5 345.9L376 335L376.3 341.7L376.9 338.9L377.7 332.7L378 347.4L378.9 336.2L379.3 341.9L379.6 350.9L380.1 338L380.5 337.4L380.8 334.8L381.3 337.1L381.7 339.8L382.2 336.7L382.5 337.6L382.8 339.6L383.3 335.9L383.7 335.3L384.1 341.1L384.6 331.8L384.9 332.6L385.3 332.6L385.8 348.1L386.2 335.2L386.7 336.2L387 340L387.4 332.9L387.9 342.2L388.2 330L388.7 333.8L389 337.8L389.4 329.2L389.9 333.6L390.3 334.2L390.6 341.6L391.1 333.5L391.5 329.7L391.9 331.1L392.3 341.8L392.8 330.1L393.2 329.2L394 338.2L394.3 343.2L395.2 339.2L395.7 335.5L396 334.3L396.4 340L396.8 344L397.3 338.6L397.6 342.7L398.1 330.9L398.6 342.3L399 334.7L399.3 333.2L399.7 341.2L400.2 332.4L400.4 337.5L400.9 340.4L401.4 341.1L401.8 336.4L402.1 332.2L402.5 345.3L403 334.2L403.7 340.3L404.2 337.4L404.5 337L405.1 337.2L405.4 333.4L405.9 340.9L406.2 328.1L406.7 332.8L407 339.3L407.5 345L407.9 336.4L408.3 337.9L408.7 332.6L409.1 332.4L409.4 327L409.9 335.9L410.3 331.5L410.7 336.7L411.2 336.3L411.5 327.5L412 334.8L412.4 334.5L412.8 335.3L413.2 332L413.7 330.4L414 333.4L414.4 337.8L414.8 330.6L415.3 335.4L416.1 329.3L416.5 328.5L416.9 339.7L417.3 319.7L417.6 323.2L418.1 316.7L418.5 312.8L418.9 328.2L419.4 325L420.2 315.5L420.6 321.6L420.9 319.9L421.3 311.9L421.8 320.6L422.6 308.8L423 314.5L423.5 308.1L424.3 318.2L424.7 311.9L425.1 309.2L425.5 308.9L426.2 303.5L426.8 302.8L427.2 302.5L427.6 304.9L427.9 303.2L428.4 303.2L428.8 303.7L429.1 292.9L429.6 309.4L429.9 297.6L430.5 306.6L430.8 300.6L431.3 291.8L431.6 297L432 286.5L432.5 297.9L433 292.9L433.3 293.7L433.7 288.8L434.1 289.7L434.5 288.7L434.9 285.3L435.4 278.3L435.8 282.7L436.1 282.5L436.6 283.3L436.9 285.1L437.4 288L437.8 285L438.1 278.2L438.6 288.2L439.1 272.8L439.4 278.2L439.9 280.4L440.2 277.6L440.6 270.1L441 271.1L441.4 271L441.9 261.6L442.3 257.4L442.8 277.6L443.1 264.5L443.6 273.3L444 276.2L444.3 270.7L444.6 261.3L445.2 268.3L445.4 268.8L446 257.1L446.8 264.9L447.3 253.3L447.5 260.8L448.1 267.4L448.3 269.3L448.9 264.9L449.6 256.2L450 256.5L450.4 260.5L450.9 267.7L451.3 255.1L452.1 266.7L452.5 267.5L453 258.8L453.2 258.1L453.7 255.5L454.2 267.9L454.6 249.8L455 272.5L455.8 255.3L456.3 257.8L456.5 270L457.1 262.1L457.4 259.3L457.9 263.2L458.3 273.7L458.7 258.2L459.1 276.9L459.4 266.7L459.9 271.7L460.2 267L460.8 262L461 253.8L461.5 261.5L461.8 253.3L462.4 250.1L462.7 259.6L463.1 259.6L463.6 263.2L463.9 272.1L464.5 273L464.8 272.2L465.3 271.4L465.7 263.4L466.1 266.7L466.5 279.3L466.8 279.7L467.2 283.7L467.7 291.7L468.1 271.8L468.4 276.6L468.8 291.1L469.7 267.9L470 278.8L470.6 279.3L470.9 281.4L471.7 289.9L472.2 288.6L472.5 283.4L472.9 285.9L473.9 275.7L474.1 282.4L474.6 281.4L475.1 288.6L475.4 294.1L475.9 275.3L476.3 283.7L476.6 281.5L477.1 290.7L477.4 298.2L477.9 282L478.3 301.6L478.7 291.2L479.2 293.6L479.4 289.7L479.8 286.9L480.3 287.3L480.7 303.8L481.2 287.4L481.6 303.6L482.1 290L482.4 296.4L482.8 300.6L483.1 297.6L483.7 302.5L484.1 295.8L484.5 291.1L484.9 292.2L485.3 296.7L485.7 291.3L486.1 295L486.4 286.4L487.3 302L487.7 300.8L488.2 303.7L488.6 301.5L488.9 301.1L489.2 297L489.7 296.9L490.1 301.1L490.7 299.6L491 306.1L491.4 305.5L491.9 316.1L492.3 307.5L492.7 306.5L493 290.6L493.5 311.8L493.9 304.7L494.2 307.1L494.7 314.1L495.2 304.9L495.4 306.4L495.8 314.4L496.3 319.4L496.8 308L497.1 315.4L497.5 304.7L498 310.1L498.3 306.2L498.7 310.8L499.1 301.5L499.6 306.2L500.1 302.2L500.4 309.6L500.9 315.8L501.3 318L501.5 313.4L502.1 309.5L502.4 314.4L502.9 298.7L503.3 311.8L503.6 309.2L504.1 311.3L504.4 318.2L504.9 306.5L505.4 308.7L505.7 307.7L506.1 317L506.6 312.2L506.9 312.6L507.3 306.5L507.8 319.6L508.2 309.2L508.5 306.2L509 315L509.5 317.1L509.7 306.2L510.3 311.8L510.5 307.3L511.1 309.4L511.5 307.9L511.8 314.3L512.2 324.3L512.7 310.6L513.1 317.2L513.5 310.6L513.9 316.6L514.2 305.7L514.7 315.3L515.1 309.9L515.6 308.6L515.9 314.7L516.4 312.8L516.7 314.6L517.2 319.4L517.6 307.3L518 319.5L518.5 322.9L518.8 317.6L519.3 314.5L519.7 314.9L520.1 317.1L520.5 317.7L520.9 326.4L521.6 306.9L522.5 325L523 312.2L523.2 316.9L523.7 336.3L524.1 320L524.6 323.7L525 322.3L525.3 306.3L526.2 317.4L526.5 316.5L527.1 308.7L527.4 322.3L527.7 313L528.3 320.1L528.6 312.6L529.1 315.8L529.4 320.8L529.9 311.7L530.3 314.4L530.7 307.9L531 319.3L531.5 316.6L531.8 320.8L532.2 311.2L532.8 321.3L533.5 311L533.9 315L534.4 316.3L534.9 316.5L535.2 316.2L535.7 314.7L536.4 328.2L536.9 311.5L537.2 323.6L537.7 309.1L538.1 317L538.5 302.5L538.9 312.7L539.2 316.6L539.7 314.1L540.1 325.9L540.5 318.1L541 320.9L541.4 319.1L541.6 329.6L542.2 330.5L542.5 315.9L543 319.5L543.5 322.1L543.7 320.4L544.2 323.4L544.6 322.6L545.1 317L545.5 321.7L545.7 317.2L546.2 324.4L546.6 330.1L547.2 324.5L547.5 322.1L547.9 327.1L548.4 323.7L548.7 324.4L549.2 317.5L549.5 318L549.9 316.9L550.4 326.4L551.2 316.5L551.5 322.2L551.9 323.6L552.5 327.3L552.8 319.5L553.1 322.9L553.6 319L554 324.9L554.5 314.2L554.8 324.6L555.2 330.7L555.7 323.9L556 322.6L556.4 318.9L556.9 327.7L557.3 328.2L557.8 327L558.1 327.7L558.5 336.3L558.9 322.6L559.4 320.2L559.8 330.2L560.1 331.3L560.6 327.4L561.1 330.8L561.4 323.1L561.7 330.1L562.2 324.2L562.6 333.4L563 334.3L563.4 335.1L563.8 334.6L564.3 325.8L564.7 323.9L565.1 327.4L565.5 327.2L565.9 339L566.3 323.1L566.7 334.5L567 322.4L567.6 317.3L567.9 328.7L568.4 326.1L568.8 326.3L569.2 335.6L569.6 334.9L570 332.9L570.7 325.8L571.2 329.4L571.6 324.8L572 332.6L572.5 337L572.9 330.3L573.2 330.8L573.7 337.4L574 325.9L574.5 335.4L574.8 334.4L575.3 330.1L575.8 336.3L576 328.4L576.6 329.7L577 329.5L577.3 331.7L578.2 335.5L578.6 330.6L579 325.7L579.7 330.6L580.1 327.7L580.6 326.3L581 338.5L581.8 327.2L582.3 336L582.6 335.2L583 330.3L583.5 334.3L583.8 327.7L584.3 334.9L584.8 330.8L585 322.1L585.5 328.5L585.9 340.1L586.4 338.8L586.8 338.7L587.1 334.4L587.6 340.8L588.1 331.9L588.5 326.7L588.8 327.5L589.3 338.3L589.7 336.2L590 336.4L590.4 338.9L590.9 327.5L591.2 338.5L591.6 340.6L592.1 334L592.5 334.2L592.9 328.9L593.3 329L593.8 336.9L594.2 345.7L594.4 333.2L595 332.8L595.4 328.5L595.8 343.8L596.2 342L596.6 329.9L596.9 329.7L597.5 331.3L597.8 337.3L598.2 331.6L598.7 340L599 343.2L599.4 338L599.8 337.3L600.2 334.3L600.6 333.1L601.2 346L601.6 337L601.9 336.2L602.3 344.1L602.7 339.7L603.2 338.4L603.5 336.8L603.9 342.7L604.4 341.6L604.7 343.9L605.1 337.7L605.6 340.7L606.1 342L606.5 336.7L606.8 340.3L607.3 344.9L607.6 334.7L608.1 335.5L608.4 337.9L608.8 344.5L609.3 335.2L609.6 342.7L610.1 348.4L610.5 340.8L611 332.6L611.4 342.4L611.7 338L612.2 334.7L612.6 339.9L612.9 342.1L613.3 340.8L613.8 338.4L614.3 343.2L614.5 339.6L615 338.8L615.4 342.8L615.9 338.2L616.1 339L616.7 342.9L617.1 342.3L617.5 341.1L617.9 342.3L618.3 342.7L618.8 346.2L619 341.4L619.5 338.9L619.9 339.3L620.3 345.6L620.8 339.8L621.1 339.7L621.6 346.2L621.9 340.2L622.3 343.2L622.7 344.1L623.1 341.6L623.6 343.5L624 350.9L624.4 341.9L624.9 347.5L625.2 343.3L625.7 340.1L626 344L626.4 345L626.8 342.6L627.3 341.2L627.7 346.8L628.2 346L628.9 336.8L629.3 343.5L629.7 339.9L630.2 346.7L630.6 343.6L631 343.4L631.3 349L631.7 343.9L632.2 344.6L632.5 350.9L633 344.3L633.4 342.8L633.9 343.1L634.2 342.8L634.7 348.7L635.5 345L635.8 347.8L636.3 346.2L636.8 339.3L637.1 347.9L637.6 345.8L638 336.9L638.3 344.9L638.8 348.5L639.1 343.4L639.9 343.9L640.4 350.9L640.8 343.3L641.1 342.9L641.6 336.1L642.5 346.2L642.8 343.2L643.3 341.7L643.6 345L644.1 344.6L644.5 338.9L644.9 342.5L645.2 342.4L645.8 348.3L646 342.7L646.5 350.9L647 339.5L647.3 346.3L648.1 338.8L648.6 348.8L648.9 339.7L649.4 343.5L649.8 339.8L650.2 345.9L650.6 347.2L651 339.2L651.5 342.7L651.8 344.2L652.3 349L652.6 339.1L653.1 345.8L653.5 345.3L653.9 347.2L654.6 342.1L655.1 344.7L655.6 344.8L655.9 346.7L656.4 338.6L656.8 338L657.3 345.7L657.6 348.1L657.9 343.5L658.5 350.9L658.8 343.6L659.1 343.5L659.6 344L660 338.3L660.5 337.3L660.8 342.9L661.3 346.1L661.7 340.6L662.1 340.1L662.5 349.5L662.8 347.6L663.4 345.7L663.7 350.9L664 349.2L664.5 338.2L665 349.8L665.4 341.4L665.8 347.9L666.1 340.8L666.6 343.5L667 341.2L667.4 350.3L667.8 343.6L668.1 347L668.7 341.7L669 341.9L669.4 344.1L669.9 345.3L670.2 344.8L670.7 343.8L671 346.8L671.5 346.5L672.4 349L672.7 340.7L673.2 350.1L673.5 339.7L674 342L674.3 350.9L674.9 350.9L675.2 344.8L675.6 349.1L676.3 341.1L677.3 345.7L677.6 345.6L678 339L678.5 346.3L678.9 338L679.4 336.7L679.7 346.3L680 343.6L680.5 338" fill="none" stroke="#000" stroke-width="0.85" stroke-linejoin="round"/>
<path d="M373.5 344.5L376.9 343.5L384 340.9L386 340.5L387.9 340.3L389.7 340.5L391.7 340.9L398.8 343.5L402.3 344.5L406.2 345.1L411.5 345.3L680.5 345.4" fill="none" stroke="#1eee1e" stroke-width="1.25"/>
<path d="M373.5 345.4L411.3 345.3L414.3 345.2L416.2 344.7L417.3 344.1L418.3 343.2L420 340.6L421.7 336.5L425.5 325L426.7 322.9L427.2 322.4L427.7 322.2L428.2 322.4L428.8 322.8L429.9 324.9L434 337.2L436.1 341.7L437.2 343.2L438.5 344.3L439.9 344.9L441.8 345.2L680.5 345.4" fill="none" stroke="#1eee1e" stroke-width="1.25"/>
<path d="M373.5 345.4L425.6 345.4L428 345.3L429.4 344.9L430.3 344.4L431.2 343.6L432.6 340.7L433.9 336.1L436.7 323.1L437.5 320.9L437.9 320.3L438.2 320.1L438.6 320.3L439 320.9L439.8 323.1L442.7 336.5L444.2 341.5L445 343.2L446 344.3L447 344.9L448.5 345.3L680.5 345.4" fill="none" stroke="#1eee1e" stroke-width="1.25"/>
<path d="M373.5 345.4L425.6 345.3L429.8 345.1L432.5 344.3L434 343.4L435.4 342.2L436.6 340.6L437.8 338.4L440.2 332.5L444.1 320L445.6 315.9L447.2 312.8L448 312L448.7 311.8L449.4 312L450.2 312.8L451.8 315.7L453.3 319.9L457.5 333.2L458.8 336.8L460.2 339.6L461.8 341.8L463.5 343.5L465.3 344.5L467.6 345.1L470.6 345.3L475.9 345.4L680.5 345.4" fill="none" stroke="#1eee1e" stroke-width="1.25"/>
<path d="M373.5 345.4L456.8 345.2L457.5 344.9L458 344.4L458.8 341.9L459.6 337.9L461 327L461.4 325.1L461.8 324.6L462.1 325.1L462.5 327L464 338.3L464.8 342.4L465.2 343.8L465.8 344.6L466.4 345.1L467.2 345.3L680.5 345.4" fill="none" stroke="#1eee1e" stroke-width="1.25"/>
<path d="M373.5 345.4L398.6 345.3L409.1 344.9L413.4 344.5L417.1 343.8L420.5 342.9L423.5 341.6L426.5 340L429.3 338L432 335.6L434.8 332.8L439.7 326.7L449.5 312.6L453.7 307.7L455.8 305.8L457.9 304.5L459.8 303.7L461.8 303.5L463.9 303.8L466.1 304.7L468.3 306.3L470.6 308.6L474.8 313.7L485.9 329.3L489.3 333.4L492.7 336.7L496.1 339.4L499.7 341.5L503.5 343L507.8 344.1L511.4 344.6L515.5 345L527.5 345.3L680.5 345.4" fill="none" stroke="#1c1cee" stroke-width="1.2"/>
<path d="M373.5 343.4L383.1 342.5L392.1 341.2L400.7 339.7L409.2 337.9L418.5 335.4L428.1 332.5L437.7 329.2L461.1 320.7L474.1 316.6L481.5 314.9L488.5 313.6L495.2 312.9L501.9 312.7L508.2 312.9L514.6 313.7L521.2 314.8L528.2 316.5L540.9 320.4L567.1 329.9L579.1 333.9L592.2 337.5L605.1 340.3L619.9 342.5L636.2 344L655.3 344.8L680.5 345.2" fill="none" stroke="#1c1cee" stroke-width="1.2"/>
<path d="M373.5 341.8L384.9 336.3L386.6 335.7L389.2 335.6L395.9 336.7L405.8 336.7L407.9 336.1L411.9 334.2L413.6 333.1L415 331.9L416.1 330.4L417.3 327.9L421.1 317.8L426.6 304.4L427.9 301.6L431 296.2L434.3 286.3L435.7 282.9L438.3 276.7L440.6 272.4L443.6 267.8L446.1 264.7L449.9 261.5L451.2 260.7L452.4 260.2L453.5 260.1L454.3 260.8L456.5 264.2L458 267.5L458.3 267.8L458.7 267.7L459.5 266.5L460.3 264.1L461.2 254.9L461.5 253.6L462.1 255.4L464.9 272.5L466 275.4L467.9 278.4L471.6 283L486.7 298.1L497.1 307.7L499.6 309.6L501.8 310.9L506.2 312.3L520 315.6L537 318.5L542.6 319.7L547.4 321.3L558.6 326L569 329.3L595.8 336.7L603.3 338.6L609.7 340L624.5 342.7L634.6 343.8L652.2 344.7L680.5 345.1" fill="none" stroke="#ff1a1a" stroke-width="1.7" stroke-dasharray="7 6.5"/>
<rect x="373.5" y="202.5" width="307" height="148.5" fill="none" stroke="#2a2a2a" stroke-width="1.05"/>
<path d="M373.5,351 v4 M399.08,351 v2 M424.67,351 v4 M450.25,351 v2 M475.83,351 v4 M501.42,351 v2 M527,351 v4 M552.58,351 v2 M578.17,351 v4 M603.75,351 v2 M629.33,351 v4 M654.92,351 v2 M680.5,351 v4 M373.5,351 h-4 M373.5,336.15 h-2 M373.5,321.3 h-4 M373.5,306.45 h-2 M373.5,291.6 h-4 M373.5,276.75 h-2 M373.5,261.9 h-4 M373.5,247.05 h-2 M373.5,232.2 h-4 M373.5,217.35 h-2 M373.5,202.5 h-4" stroke="#2a2a2a" stroke-width="1.1" fill="none"/>
<text x="373.5" y="364.4" text-anchor="middle" class="tl">10</text>
<text x="424.67" y="364.4" text-anchor="middle" class="tl">20</text>
<text x="475.83" y="364.4" text-anchor="middle" class="tl">30</text>
<text x="527" y="364.4" text-anchor="middle" class="tl">40</text>
<text x="578.17" y="364.4" text-anchor="middle" class="tl">50</text>
<text x="629.33" y="364.4" text-anchor="middle" class="tl">60</text>
<text x="680.5" y="364.4" text-anchor="middle" class="tl">70</text>
<text transform="translate(366.9,353.8) scale(0.85,1)" text-anchor="end" class="tl" style="font-size:9.6px">0</text>
<text transform="translate(366.9,324.1) scale(0.85,1)" text-anchor="end" class="tl" style="font-size:9.6px">10</text>
<text transform="translate(366.9,294.4) scale(0.85,1)" text-anchor="end" class="tl" style="font-size:9.6px">20</text>
<text transform="translate(366.9,264.7) scale(0.85,1)" text-anchor="end" class="tl" style="font-size:9.6px">30</text>
<text transform="translate(366.9,235) scale(0.85,1)" text-anchor="end" class="tl" style="font-size:9.6px">40</text>
<text transform="translate(366.9,205.3) scale(0.85,1)" text-anchor="end" class="tl" style="font-size:9.6px">50</text>
<text x="522.1" y="215.9" text-anchor="middle" class="tt">STC4</text>
<rect x="586.6" y="204.5" width="90.9" height="49.6" fill="#fff" stroke="#8c8c8c" stroke-width="1"/>
<path d="M587.8,210.7 H609.2" stroke="#777" stroke-width="1.1"/>
<text x="611.9" y="213.9" class="lg">Experimental</text>
<path d="M587.8,223.1 H609.2" stroke="#3e3" stroke-width="1.4"/>
<text x="611.9" y="226.3" class="lg">Crystalline peak</text>
<path d="M587.8,235.3 H609.2" stroke="#22f" stroke-width="1.4"/>
<text x="611.9" y="238.5" class="lg">Amorphous peak</text>
<path d="M587.8,247.4 H594.8 M602.2,247.4 H609.2" stroke="#f22" stroke-width="1.5"/>
<text x="611.9" y="250.6" class="lg">Fitting</text>
<rect x="373.5" y="202.5" width="307" height="148.5" fill="none" stroke="#2a2a2a" stroke-width="1.05"/>
<text transform="translate(350.15,277.25) rotate(-90)" text-anchor="middle" class="al" y="3.6" style="font-size:11.3px">Intensity (a.u.)</text>
<text x="527" y="382.1" text-anchor="middle" class="al">2<tspan font-style="italic">&#952;</tspan> Degree</text>
<path d="M197.1 542L197.5 540.5L197.9 543.2L198.2 544.3L198.6 543.5L199.1 543.6L199.5 544.3L199.8 543.5L200.2 543.6L200.8 545.4L201.2 542.7L201.5 544.1L201.9 545.1L202.5 542.7L202.9 544.3L203.2 540.7L203.6 542.7L204 543.4L204.4 544.7L204.7 544.1L205.2 542.1L205.6 544.6L206.1 542.3L206.4 546.8L206.9 543.1L207.3 541.6L207.6 541.6L208.2 540.6L208.3 540.5L208.6 542.3L208.8 543.3L209.4 542.9L209.6 541.4L210.5 543.7L210.9 542.9L211.3 542.6L211.8 545.4L212.1 547.9L212.5 544.9L213 544.9L213.4 542L213.9 539.6L214.2 540L215.1 543L215.4 540.5L215.8 543.9L216.2 543.8L216.6 541.1L217.2 544.9L217.4 545.8L218 541L218.3 542.5L218.8 542L219.1 542L219.6 541.5L219.9 543.6L220.3 542.7L220.8 542.6L221.2 537.2L221.6 534.4L221.8 533.9L222 534.1L222.3 530.5L222.8 542.3L223.1 540.3L223.6 541L224 540.8L224.4 543.9L224.9 540.6L225.6 542.7L226.1 543L226.9 540.7L227.3 540.8L227.8 538.4L228.2 542.7L228.6 541L229 542.7L229.3 540.7L229.8 541.7L230.2 542.8L230.5 544L231 543L231.9 539L232.2 540.2L232.6 543.5L232.9 542.2L233.4 541.2L233.9 541.4L234.3 540.6L234.7 538.2L235.4 538L235.6 538.2L235.8 539.4L236.3 543.2L236.6 540.8L237.1 540L237.4 542.8L238 539.7L238.4 538.3L238.7 532.5L238.9 535.5L239.5 536.6L240.4 539.9L240.7 540.2L241.3 538.2L241.5 538L242 538.2L242.3 540.7L242.7 539.2L243.2 541.4L243.6 541.1L244.1 539.2L244.5 539.9L244.9 538.5L245.3 532.8L245.7 536.4L246.2 538.8L246.5 541.1L247 538.3L247.7 540.6L248.2 534.6L248.5 536.7L249 534.6L249.4 529L249.7 534.5L250.1 534.6L250.5 533.8L251.3 535.6L251.7 534.1L252.2 531L252.6 533.6L253.1 535.5L253.8 534.3L254.2 531.7L254.7 530.4L255.1 530L255.6 528.1L255.9 530.9L256.3 528.2L256.7 529L257.2 527.7L257.5 533.1L258 525.8L258.3 531.7L258.8 530.4L259.2 525.8L259.5 528.1L260 522.8L260.3 526.2L260.7 528.5L261.2 525.4L261.6 526.3L262.1 521.3L262.3 520.9L262.8 522.6L263.2 524.9L263.7 523.4L264.1 520.7L264.5 524.8L264.9 524.5L265.3 520.2L265.7 520.1L266.1 522.2L266.5 521.9L267 525.7L267.3 517.6L267.8 518.8L268.2 520.1L268.6 515.2L268.6 515.2L268.9 511.6L269.4 516.1L269.7 521.9L270.1 514L270.5 515.1L271 520.8L271.5 524.5L271.8 515.2L272.3 518.9L272.6 517.6L273 518.4L273.4 513.6L273.9 512.8L274.3 514.4L274.7 516.6L275.5 514.4L275.9 519.9L276.4 512.5L276.7 516.4L277.2 514.8L277.5 515L277.9 513L278.3 512.5L278.7 509.5L279.3 516L279.6 517.4L279.9 514.7L280.3 516.7L280.7 512.8L281.2 517.1L282.1 512.6L282.5 512.4L282.9 513.8L283.2 508.2L283.7 491.2L284.2 466.5L284.4 447.5L284.5 445.4L285 465.7L285.3 490.9L285.8 510.6L286.1 513.7L286.6 515.2L286.9 512.6L287.3 513.7L287.8 518L288.2 518.5L288.6 514.4L289 517.2L289.5 504.7L289.8 490.5L290.3 472L290.4 471.6L290.6 476.1L291 496.6L291.8 518.4L292.2 517.9L292.6 518.4L293.5 525.7L293.9 517L294.2 518.3L294.6 514.7L295.2 483.2L295.4 452.3L295.9 408L296 406.9L296.4 436.3L296.7 470.5L297.1 512.4L297.9 523.1L298.3 521.5L298.9 526.7L299.2 523.4L299.6 521.4L300 524.6L300.4 523.3L300.9 522.1L301.3 523.6L301.6 519.7L302.1 524.8L302.4 524.8L302.9 525L303.3 529.5L303.7 528.6L304 524L304.5 526.2L304.9 522.4L305.3 526L305.8 526.4L306.2 523.6L306.5 524.4L307.3 506.4L307.8 477L308 472.2L308.3 478.1L309 516.2L309.4 526L309.8 528.8L310.3 525.6L310.6 527.8L311 525.9L311.5 525.1L311.9 527.1L312.4 523.4L313.2 487.8L313.4 483.3L313.5 484L314.4 520.5L314.7 527.4L315.1 529.1L315.5 526.7L315.9 530L316.4 530.1L316.7 531.1L317.2 527.8L317.5 532.9L318.1 531.1L318.5 527.8L318.8 526.7L319.2 530.3L319.7 527.8L320 534.3L320.4 528.4L320.8 529.5L321.2 532.8L321.6 534.1L322 531.3L322.6 529.7L322.8 529.5L323.4 530.1L323.6 528.7L324 528.6L324.4 532.2L325 526.5L325.2 526.1L325.4 526.4L325.7 528.4L326.3 527.8L326.5 530.2L326.9 525.6L327.4 530.8L327.7 530.7L328.3 531L328.6 530.4L329 525.5L329.5 531.6L329.8 531.5L330.3 525.5L330.8 515.5L331.1 513.4L331.2 512.9L331.4 513.6L332.3 528L332.7 531.7L333.1 531.5L333.5 532.7L333.9 528.4L334.3 527.6L334.7 531.7L335.2 531.2L335.5 535.2L335.9 532.3L336.5 530.5L336.8 530.7L337.1 531L337.6 529.5L338.1 531.1L338.5 532.2L338.9 527.9L339.2 535.5L339.7 533.9L340.1 533L340.9 533.2L341.3 532L341.7 533.1L342.2 531.7L342.4 530.4L342.9 531.3L343.4 527.6L343.7 525L344.5 499.5L344.7 497.8L344.9 500.1L345.7 521.7L346.1 524L346.5 522.6L346.9 515.5L347 515.3L347.5 516.1L347.9 527.4L348.3 530.9L348.6 532.4L349 531.9L349.4 535.7L349.9 532.8L350.3 532.4L350.7 530.3L351.1 533.8L351.6 532.2L351.9 528.7L352.3 533.7L352.8 530.9L353.2 533.8L353.9 531.6L354.4 529.2L354.8 528.9L355.3 526.5L355.5 523.3L355.9 523.3L356.4 527.4L357.3 533.6L357.6 533.5L358 536.5L358.4 533L358.9 534.4L359.3 533.5L359.8 529.7L360 532.2L360.4 533.5L360.9 536.5L361.3 532.3L361.7 530.8L362.1 535.6L362.6 533.1L363 534.9L363.8 531.5L364.1 532.1L364.5 524.9L364.7 524.4L365.4 526.5L365.7 531.9L366.3 533.5L366.7 534.4L367 534.2L367.4 534.3L367.8 535.3L368.2 535.2L368.8 537.6L369.5 536.3L369.9 534.7L370.4 535.9L370.7 531.5L371.1 535.7L371.4 536.1L371.8 534.6L372.4 533.5L372.7 532L373.2 533.8L373.6 536.9L374 536.1L374.5 533.8L374.7 535.3L375.1 534L375.6 533.8L376 526.4L376.3 528.6L376.8 530.7L377.3 536.9L377.6 535.4L378.4 522L378.9 520.7L379.4 521.6L380.2 534.7L380.6 534.7L380.9 536.6L381.3 537.4L381.7 534.9L382.1 535L382.6 538.2L383.4 539.8L383.8 540L384.2 534.8L384.7 532.8L384.9 534.9L385.4 533.4L385.5 533.2L385.9 534.5L386.3 534.4L386.7 536.9L387.1 537.9L387.4 541L387.9 540.7L388.3 538.8L388.6 539.1L389.1 538.3L389.6 539.3L390.2 536.2L391.2 524.8L391.4 523.7L391.9 525.1L392.4 535.1L392.7 538.8L393.2 540.4L393.6 538.4L393.9 537.9L394.4 536.8L394.9 539.7L395.2 536.7L395.7 539.8L396 539.7L396.5 540.3L396.8 538.4L397.3 537.6L397.6 539.5L398 540.4L398.4 542.3L398.9 539.4L399.3 540.3L399.7 540.1L400.1 540.9L400.6 541.4L401 540.7L401.3 539.2L401.8 538.4L402.2 540.1L402.6 539.6L403 540.6L403.3 540.5L403.9 542.6L404.2 538.5L404.6 538L405.1 532.3L405.4 533.1L405.8 527L406.2 525.4L406.2 525.5L407.1 533L407.5 538.2L407.9 539L408.2 541.4L408.8 539.9L409.1 541.4L409.5 541.7L409.9 540.6L410.3 539.2L410.8 539.6L411.1 537.7L411.5 533.9L411.9 539.7L412.4 541.9L412.8 541.9L413.1 540.6L413.7 541.1L413.9 539.8L414.5 539.5L414.8 537.6L415.2 544L416 539.9L416.5 543.8L416.9 544L417.3 541.4L417.6 540L418 539.7L418.5 544.8L418.9 543.9L419.3 542.1L419.7 542.8L420.1 541.4L420.6 541.8L421 539.2L421.4 542.2L421.7 541.8L422.2 542L422.6 540.4L423.1 544L423.4 541.6L423.9 543.5L424.3 544.6L424.6 540.4L425.1 541.5L425.5 540.1L425.9 542L426.2 541.4L426.8 542.2L427.2 541.6L427.5 543.2L427.9 539.8L428.2 544L428.8 539.8L429.2 542.9L429.5 541.2L430 542.4L430.4 541.9L430.9 540.3L431.5 544.2L431.9 542.3L432.5 541.7L432.7 546.7L433.1 541.2L433.7 541.1L434.1 545.7L434.4 543.1L434.8 541.6L435.2 544.7L435.6 543.6L436 543.5L436.5 542.1L436.9 541.2L437.2 543L437.8 542.9L438.1 541.5L438.6 542.2L439 543.2L439.3 540.9L439.8 545.4L440.1 542.9L440.6 543.8L440.9 543.9L441.3 542.8L441.8 543.1L442.3 539.3L442.6 542.2L443 542.7L443.5 540.6L443.8 541.6L444.2 546.2L444.7 543.1L445.2 542.1L445.4 544.3L445.9 542.8L446.3 544.1L446.7 542.7L447 545.9L447.5 546.5L447.8 544.2L448.7 541.3L449.1 543.9L449.6 544.6L450.1 542L450.3 543.3L450.9 539.8L451.2 541.8L451.7 541.5L452 536.2L452.4 532.9L452.5 533L453.3 540.4L454.1 544L454.4 542.8L454.9 542.9L455.2 543.3L455.7 543.3L456 546.6L456.5 546.2L457.3 543.2L457.7 545.9L458.1 544.3L458.6 543.2L459 540.5L459.4 543.2L459.8 544.5L460.3 541.9L460.6 543.3L460.9 544.1L461.4 541.9L461.8 545.1L462.2 543.4L462.7 543.6L463.1 542.3L463.4 545.5L463.8 545.8L464.2 544.4L464.8 544.2L465.1 543.7L465.5 544.4L465.9 543.1L466.3 542.7L466.7 543.4L467.1 545.4L467.6 542L468 546.2L468.3 544.1L468.8 542.4L469.1 544.8L469.5 541.8L469.9 540.8L470.3 541.3L470.7 543.1L471.3 542.3L471.7 544.6L472.1 543.2L472.5 543.1L472.8 543.7L473.2 543.6L473.7 544.2L474.2 546.9L474.5 543.2L474.8 543.4L475.2 540.6L475.6 542.7L476.2 543.8L476.6 542.5L477.4 543.9L478.2 546.2L479 541.3L479.4 546.8L480.3 542.7L480.6 543.6L481 543.2L481.5 546.8L482.3 543.1L482.7 543L483 543.4L483.4 545.3L484 543.1L484.3 545.8L484.7 545.4L485.1 545.7L485.5 541.6L485.9 544.6L486.4 543.8L486.6 547.4L487.1 542.2L487.5 543.2L488 546.5L488.5 546.5L488.8 541.3L489.2 545.4L489.7 541L490 544.7L490.4 547.8L490.8 542.2L491.1 543.1L491.6 542.9L492 544.7L492.5 544.3L492.9 542.4L493.7 547L494.1 542.5L494.6 544.9L494.9 541.9L495.2 544.7L495.8 544.6L496 544.3L496.6 547.7L496.9 542.1L497.4 544.9L497.8 544.3L498.3 541.6L498.7 543.8L499.1 542.5L499.5 543.4L499.9 542.7L500.2 543.5L500.6 542.1L501 544.3L501.4 543.2L501.8 545.1L502.2 542.1L502.7 547.4L503.1 543.7L503.5 543.4" fill="none" stroke="#000" stroke-width="0.85" stroke-linejoin="round"/>
<path d="M197.1 546.4L252.2 546.4L253.5 546L254.6 545.1L255.4 543.7L257.3 539.9L257.8 539.2L258.3 539L258.9 539.2L259.4 539.9L261.3 543.8L262.3 545.3L263.5 546.2L265.4 546.4L503.5 546.4" fill="none" stroke="#1eee1e" stroke-width="1.25"/>
<path d="M197.1 546.4L281.8 546.4L282.7 546.3L283 545.6L283.2 544L283.5 537.5L284.3 487.3L284.5 480.2L284.8 487.3L285.6 537.5L286 544.6L286.2 546L286.6 546.4L503.5 546.4" fill="none" stroke="#1eee1e" stroke-width="1.25"/>
<path d="M197.1 546.4L288.4 546.4L288.7 546L288.9 545.2L289.3 540.7L290.1 508.7L290.4 504.2L290.6 508.7L291.4 540.7L291.8 545.2L292 546.1L292.4 546.4L503.5 546.4" fill="none" stroke="#1eee1e" stroke-width="1.25"/>
<path d="M197.1 546.4L293.2 546.4L294 546.3L294.3 545.4L294.6 543.3L294.9 531.6L295.7 448.2L296 436.4L296.2 448.2L297.1 531.6L297.4 543.3L297.7 545.7L298 546.4L503.5 546.4" fill="none" stroke="#1eee1e" stroke-width="1.25"/>
<path d="M197.1 546.4L306 546.4L306.4 546L306.6 545L306.9 539.5L307.7 500.9L308 495.4L308.2 500.9L309.1 539.5L309.4 545L309.7 546.1L310 546.4L503.5 546.4" fill="none" stroke="#1eee1e" stroke-width="1.25"/>
<path d="M197.1 546.4L311.5 546.4L311.8 546L312 545.3L312.3 540.8L313.1 509.1L313.4 504.6L313.7 509.1L314.5 540.8L314.8 545.3L315.1 546.1L315.4 546.4L503.5 546.4" fill="none" stroke="#1eee1e" stroke-width="1.25"/>
<path d="M197.1 546.4L329 546.4L329.6 546L330 544.5L330.9 533.8L331.2 532.2L331.5 533.8L332.4 544.5L332.9 546L333.5 546.4L503.5 546.4" fill="none" stroke="#1eee1e" stroke-width="1.25"/>
<path d="M197.1 546.4L342.5 546.4L342.8 546.2L343.1 545.7L343.5 542.5L344.4 520.7L344.7 517L345 520.7L345.8 542.5L346.2 545.7L346.5 546.2L346.9 546.4L503.5 546.4" fill="none" stroke="#1eee1e" stroke-width="1.25"/>
<path d="M197.1 546.4L376.2 546.4L377 546L377.4 544.6L378.5 534.4L378.9 532.8L379.2 534.4L380.3 544.6L380.8 546L381.4 546.4L503.5 546.4" fill="none" stroke="#1eee1e" stroke-width="1.25"/>
<path d="M197.1 546.4L389.1 546.4L389.8 546L390.2 544.5L391.1 533.7L391.4 532L391.7 533.7L392.7 544.5L393 545.9L393.6 546.4L503.5 546.4" fill="none" stroke="#1eee1e" stroke-width="1.25"/>
<path d="M197.1 545.1L217.2 545L227.1 544.8L234.8 544.2L241.1 543L246.6 541.3L252 538.8L256.8 536L266.6 529.5L270.9 527.1L275.2 525.5L277.2 525.1L279.3 525L281.5 525.2L283.7 525.6L286 526.4L288.4 527.4L292.7 529.9L304.1 537.4L307.6 539.4L311 540.9L314.6 542.2L318.3 543.2L322.2 544L326.6 544.5L334.5 544.9L346.8 545.1L503.5 545.1" fill="none" stroke="#1c1cee" stroke-width="1.2"/>
<path d="M197.1 544.9L224.3 544.2L235.6 543.6L246.2 542.8L256 541.7L266 540.4L296.7 535.5L307.8 534L319.7 532.8L331 532.5L341.7 532.8L353.2 533.9L364.2 535.4L398.8 540.8L411.1 542.3L423.3 543.4L437.5 544.2L453.7 544.7L503.5 545.1" fill="none" stroke="#1c1cee" stroke-width="1.2"/>
<path d="M197.1 543.8L213.6 543.4L224.4 542.8L232.5 541.7L239.2 540L245 537.5L250.6 534.2L255.7 530.4L266.5 521.3L271.6 517.8L274.3 516.4L276.9 515.5L279.3 515.1L282.7 515L283 514.1L283.2 512.2L283.5 504.5L284.3 456.3L284.5 449.2L284.8 456.4L285.5 502.9L286 514.4L286.5 516L288.3 516.7L288.6 516.7L288.8 516.4L289 515.1L289.4 507.5L290.1 479.8L290.4 475.4L290.6 480.1L291.3 508.4L291.6 515.8L291.8 517.5L292.2 518.4L293.7 519.4L294.1 519.4L294.5 518L294.7 514.9L295 502.2L295.7 422.4L296 410.7L297.1 509.2L297.5 519.8L297.8 521.5L298.3 522.1L305.7 526.1L306.2 526L306.5 525.3L307 516.7L307.7 481.4L308 476L309.2 522.9L309.6 527L309.9 527.7L310.5 528L311.4 528.2L311.8 528L312.2 524.7L313.4 487.1L314.5 524.5L314.9 528.3L315.1 529.1L315.6 529.4L322.4 530.4L328.5 530.9L329.4 530.8L329.8 530L330.1 528.3L330.9 518.4L331.2 516.7L331.5 518.4L332.3 528.4L332.6 530L333 530.9L333.8 531.2L342.2 531.7L342.8 531.5L343.2 530.2L343.5 527L344.4 506.1L344.7 502.4L345 506.1L345.8 528L346.2 531.2L346.5 531.8L346.9 532L358.8 533.5L376.6 536.2L377.1 535.6L377.5 534L378.5 524.5L378.9 522.9L379.2 524.6L379.9 532.4L380.4 535.5L381 536.8L382.1 537.2L389 538.3L389.8 538.1L390.3 535.8L391.1 525.9L391.4 524.2L391.7 525.9L392.7 537.2L393.1 538.6L393.9 539L404.4 540.4L414.8 541.6L425.3 542.4L436.5 543L462.2 543.7L503.5 543.9" fill="none" stroke="#ff1a1a" stroke-width="1.7" stroke-dasharray="7 6.5"/>
<rect x="197.05" y="396.5" width="306.45" height="152" fill="none" stroke="#2a2a2a" stroke-width="1.05"/>
<path d="M197.05,548.5 v4 M222.59,548.5 v2 M248.12,548.5 v4 M273.66,548.5 v2 M299.2,548.5 v4 M324.74,548.5 v2 M350.27,548.5 v4 M375.81,548.5 v2 M401.35,548.5 v4 M426.89,548.5 v2 M452.43,548.5 v4 M477.96,548.5 v2 M503.5,548.5 v4 M197.05,548.5 h-4 M197.05,529.5 h-2 M197.05,510.5 h-4 M197.05,491.5 h-2 M197.05,472.5 h-4 M197.05,453.5 h-2 M197.05,434.5 h-4 M197.05,415.5 h-2 M197.05,396.5 h-4" stroke="#2a2a2a" stroke-width="1.1" fill="none"/>
<text x="197.05" y="561.9" text-anchor="middle" class="tl">10</text>
<text x="248.12" y="561.9" text-anchor="middle" class="tl">20</text>
<text x="299.2" y="561.9" text-anchor="middle" class="tl">30</text>
<text x="350.27" y="561.9" text-anchor="middle" class="tl">40</text>
<text x="401.35" y="561.9" text-anchor="middle" class="tl">50</text>
<text x="452.43" y="561.9" text-anchor="middle" class="tl">60</text>
<text x="503.5" y="561.9" text-anchor="middle" class="tl">70</text>
<text x="190.45" y="551" text-anchor="end" class="tl">0</text>
<text x="190.45" y="513" text-anchor="end" class="tl">25</text>
<text x="190.45" y="475" text-anchor="end" class="tl">50</text>
<text x="190.45" y="437" text-anchor="end" class="tl">75</text>
<text x="190.45" y="399" text-anchor="end" class="tl">100</text>
<text x="337.7" y="410.2" text-anchor="middle" class="tt">STC5</text>
<rect x="411.2" y="397.9" width="90.5" height="49.1" fill="#fff" stroke="#8c8c8c" stroke-width="1"/>
<path d="M412.5,404.8 H433.7" stroke="#555" stroke-width="1.1"/>
<text x="436.1" y="408" class="lg">Experimental</text>
<path d="M412.5,416.6 H433.7" stroke="#8e8" stroke-width="1.4"/>
<text x="436.1" y="419.8" class="lg">Crystalline peak</text>
<path d="M412.5,428.6 H433.7" stroke="#44f" stroke-width="1.4"/>
<text x="436.1" y="431.8" class="lg">Amorphous peak</text>
<path d="M412.5,440.6 H419.5 M426.7,440.6 H433.7" stroke="#f22" stroke-width="1.5"/>
<text x="436.1" y="443.8" class="lg">Fitting</text>
<rect x="197.05" y="396.5" width="306.45" height="152" fill="none" stroke="#2a2a2a" stroke-width="1.05"/>
<text transform="translate(169.85,473.25) rotate(-90)" text-anchor="middle" class="al" y="3.6" style="font-size:11.1px">Intensity (a.u.)</text>
<text x="350.3" y="578.9" text-anchor="middle" class="al">2<tspan font-style="italic">&#952;</tspan> Degree</text>
</svg>
</body></html>
